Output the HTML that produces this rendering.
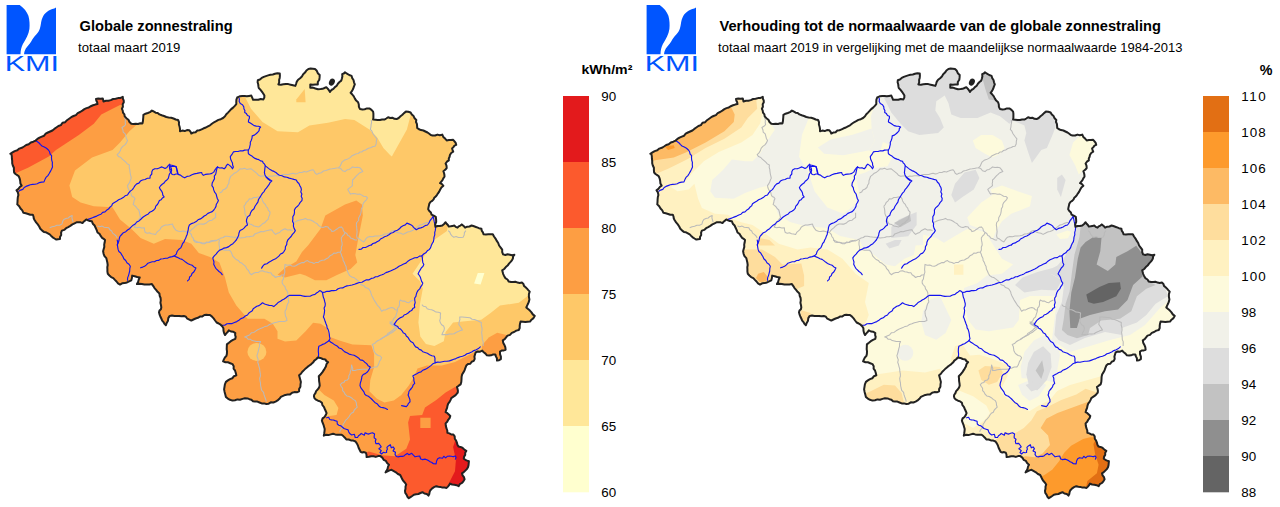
<!DOCTYPE html>
<html><head><meta charset="utf-8"><title>Globale zonnestraling</title>
<style>
html,body{margin:0;padding:0;background:#fff;}
body{width:1280px;height:507px;overflow:hidden;font-family:"Liberation Sans",sans-serif;}
svg{display:block;}
text{font-family:"Liberation Sans",sans-serif;}
.t{font-size:14.67px;font-weight:bold;fill:#000;}
.s{font-size:13.15px;fill:#000;}
.s2{font-size:12.98px;fill:#000;}
.lab{font-size:13.4px;fill:#000;}
.u{font-size:14px;font-weight:bold;fill:#000;}
</style></head><body>
<svg width="1280" height="507" viewBox="0 0 1280 507">
<defs>
<clipPath id="cl"><path d="M10.3 153.8 L12.5 152.4 L14.7 151.1 L17.3 150.3 L19.3 148.6 L21.8 147.8 L24.0 146.5 L26.2 145.0 L28.7 144.2 L30.8 142.5 L33.3 141.7 L35.6 140.6 L37.4 138.9 L39.5 137.6 L41.8 136.6 L44.1 135.7 L45.7 133.7 L47.9 132.5 L50.2 131.5 L52.4 130.5 L54.3 128.9 L56.3 127.5 L58.4 126.0 L60.9 125.1 L62.5 122.8 L65.2 122.2 L67.0 120.2 L69.1 118.7 L71.2 117.2 L73.5 116.0 L75.9 115.1 L77.7 113.1 L80.1 112.0 L82.3 110.6 L84.4 109.1 L86.5 108.1 L88.8 107.5 L90.8 106.2 L93.0 105.3 L95.2 104.6 L97.5 104.1 L97.2 102.3 L96.4 100.7 L96.0 99.0 L98.2 98.6 L100.5 98.7 L102.8 98.4 L103.2 100.0 L103.5 101.6 L105.9 100.8 L108.4 100.7 L110.8 100.1 L113.1 99.0 L115.6 98.7 L118.0 98.1 L120.5 97.9 L122.8 96.9 L122.9 98.7 L123.7 100.4 L123.8 102.2 L122.7 104.3 L122.9 106.7 L121.9 108.8 L122.7 110.6 L123.0 112.6 L124.4 114.3 L124.7 116.3 L126.4 118.2 L128.4 119.7 L129.5 122.0 L131.3 123.8 L133.6 124.0 L135.8 123.7 L138.0 124.0 L140.3 123.3 L142.5 123.4 L142.9 121.3 L143.1 119.1 L143.3 117.0 L143.4 114.8 L145.5 113.7 L147.8 113.0 L150.0 112.1 L151.9 110.6 L153.8 111.5 L155.6 112.7 L157.7 113.0 L159.4 114.4 L161.7 115.3 L164.0 116.0 L166.3 117.0 L168.6 117.5 L171.2 117.7 L173.5 118.5 L175.7 119.5 L178.1 120.0 L179.0 122.2 L178.9 124.5 L179.6 126.7 L180.0 129.0 L180.0 131.3 L182.3 130.6 L184.7 131.1 L187.0 130.1 L189.4 130.3 L190.6 131.8 L191.3 133.5 L193.3 132.6 L195.6 132.2 L197.3 130.6 L199.5 130.2 L201.6 129.4 L203.7 128.3 L205.9 127.5 L207.9 126.3 L210.0 125.3 L211.9 123.8 L214.0 122.3 L216.2 121.2 L218.4 119.9 L220.8 119.2 L223.1 118.0 L225.0 116.3 L226.3 114.3 L228.0 112.6 L229.6 110.9 L231.2 109.1 L233.1 107.6 L234.8 105.9 L236.3 104.1 L236.3 101.9 L236.4 99.6 L237.2 97.5 L238.6 96.8 L240.0 96.2 L242.3 95.9 L244.5 96.0 L246.8 96.3 L249.1 95.9 L251.3 95.6 L252.2 97.7 L253.1 99.8 L255.7 99.8 L258.3 99.8 L260.8 99.0 L263.4 99.4 L264.3 97.6 L264.4 95.6 L263.2 93.5 L261.9 91.6 L260.5 89.8 L258.8 88.1 L258.4 86.2 L258.2 84.2 L257.6 82.3 L257.8 80.3 L259.9 79.5 L261.7 77.9 L263.8 76.9 L265.9 76.1 L268.1 75.4 L270.4 74.7 L272.8 74.5 L275.0 73.8 L277.4 73.3 L279.8 73.5 L279.9 75.7 L279.7 77.9 L279.1 80.1 L279.2 82.3 L278.4 84.4 L280.9 84.7 L283.4 84.3 L285.9 84.0 L288.3 84.1 L290.7 84.7 L293.0 85.3 L295.3 85.9 L296.1 83.8 L296.8 81.6 L298.1 79.7 L300.1 78.2 L301.9 76.5 L303.2 74.3 L305.0 72.6 L306.4 70.5 L308.4 69.0 L310.6 68.6 L312.8 68.8 L315.0 69.0 L316.8 70.8 L317.8 73.2 L319.7 75.0 L319.6 77.4 L319.3 79.8 L317.8 82.0 L317.8 84.4 L315.3 84.4 L312.8 84.8 L310.3 84.4 L310.3 86.1 L310.3 87.8 L312.9 87.6 L315.4 88.5 L318.0 89.3 L320.6 89.1 L322.6 88.8 L324.5 88.0 L326.3 87.2 L327.7 88.6 L328.9 90.2 L330.0 91.9 L331.4 90.0 L333.4 88.9 L334.9 87.1 L336.7 85.7 L337.9 83.7 L339.5 82.0 L341.3 80.6 L341.9 78.5 L342.4 76.3 L342.2 74.1 L343.8 73.5 L345.0 72.2 L347.0 73.7 L349.2 75.0 L351.6 75.9 L352.2 78.1 L353.5 80.0 L354.0 82.3 L354.8 84.4 L353.9 86.6 L353.2 88.8 L352.1 90.9 L350.6 92.8 L352.3 94.5 L353.8 96.4 L354.9 98.6 L356.2 100.6 L358.1 102.2 L358.8 104.5 L358.9 106.9 L360.0 109.1 L362.4 109.5 L364.7 109.2 L367.0 108.4 L369.4 108.4 L371.5 109.8 L373.1 111.6 L373.4 113.6 L373.4 115.6 L373.4 117.6 L373.1 119.6 L375.4 119.7 L377.6 120.0 L379.9 120.0 L382.1 119.6 L384.4 119.6 L386.3 118.5 L388.1 117.2 L390.2 118.0 L392.4 117.7 L394.4 118.8 L396.6 119.1 L398.7 118.0 L400.5 116.3 L402.4 114.8 L404.0 113.1 L405.9 111.6 L408.3 111.7 L410.6 112.5 L411.8 114.6 L413.6 116.1 L414.6 118.3 L416.3 120.0 L416.0 122.0 L416.9 123.9 L417.1 125.9 L417.2 127.9 L419.0 129.3 L421.1 130.1 L423.4 130.5 L425.4 131.5 L427.5 132.5 L429.3 133.8 L430.8 135.0 L432.6 135.4 L435.1 135.5 L437.4 134.6 L439.9 135.2 L442.3 134.6 L443.3 136.9 L445.1 138.6 L446.7 140.4 L448.9 140.0 L451.0 140.1 L453.2 139.8 L454.5 141.3 L455.7 142.9 L456.2 144.8 L454.5 145.6 L453.4 147.1 L452.1 148.4 L452.6 150.1 L453.2 151.7 L451.2 153.0 L449.9 155.0 L449.6 156.8 L448.8 158.5 L448.8 160.4 L446.9 161.7 L445.6 163.6 L446.5 165.7 L446.7 168.0 L445.2 169.8 L443.4 171.2 L444.0 173.0 L444.4 174.8 L444.5 176.7 L443.3 178.3 L442.5 180.1 L441.3 181.6 L440.1 183.2 L442.0 184.2 L443.4 185.8 L441.4 187.5 L440.1 189.7 L439.2 191.6 L438.0 193.3 L436.9 195.1 L435.7 196.5 L434.3 197.7 L433.6 199.4 L432.2 200.9 L430.4 202.0 L429.3 203.8 L428.9 205.6 L428.5 207.4 L428.2 209.2 L429.3 211.0 L430.9 212.5 L431.5 214.6 L433.7 215.6 L435.8 216.8 L436.1 219.3 L436.2 221.8 L435.2 224.3 L435.5 226.8 L437.7 226.0 L440.0 225.9 L442.3 225.5 L444.1 224.0 L445.6 222.2 L446.6 223.7 L447.9 225.0 L448.8 226.6 L450.6 226.3 L452.5 225.9 L454.3 225.5 L455.7 226.9 L457.5 227.7 L458.7 226.3 L460.4 225.6 L461.8 224.4 L463.6 225.9 L465.1 227.7 L467.2 226.7 L469.5 226.5 L471.6 225.5 L474.0 226.3 L476.5 227.2 L478.9 228.2 L481.4 228.7 L481.7 230.7 L482.9 232.4 L483.6 234.3 L485.9 234.4 L488.2 234.3 L490.5 234.2 L492.8 234.2 L494.0 236.5 L495.5 238.6 L496.8 240.9 L498.2 243.0 L499.1 245.5 L500.7 247.6 L502.2 249.7 L502.2 252.1 L503.1 254.4 L505.3 255.0 L507.6 254.3 L509.9 254.7 L512.1 255.2 L514.4 254.8 L513.1 256.4 L512.9 258.5 L511.9 260.3 L510.6 261.9 L509.0 263.6 L507.6 265.6 L505.8 267.1 L504.2 269.0 L502.2 270.3 L502.7 272.2 L503.2 274.1 L504.1 275.9 L505.3 278.1 L507.5 279.5 L508.8 281.6 L511.0 282.0 L513.2 282.1 L515.4 281.7 L517.5 282.6 L519.7 282.9 L521.9 282.5 L523.4 283.9 L524.0 285.9 L525.6 287.2 L527.0 288.6 L528.3 290.1 L529.7 291.6 L528.9 294.1 L528.9 296.7 L529.4 299.4 L528.8 301.9 L528.0 303.8 L527.1 305.6 L526.3 307.5 L528.1 309.1 L529.9 310.6 L531.5 312.4 L532.8 314.4 L534.7 315.9 L533.5 318.1 L531.5 319.7 L530.0 321.6 L527.6 321.7 L525.3 322.1 L523.0 321.8 L520.6 321.6 L520.0 323.7 L519.7 325.8 L519.7 328.0 L518.8 330.0 L516.3 330.6 L514.1 332.0 L511.8 332.9 L510.0 334.9 L507.5 335.6 L506.1 337.3 L504.7 339.1 L502.8 340.3 L503.2 342.7 L504.4 344.9 L505.3 347.2 L505.6 349.7 L503.8 350.4 L501.7 350.5 L500.0 351.6 L500.0 354.1 L500.9 356.6 L500.9 359.1 L499.1 360.2 L497.0 360.5 L496.9 358.3 L495.9 356.4 L495.3 354.4 L493.2 354.4 L491.1 355.3 L489.1 355.6 L486.9 355.3 L485.5 353.6 L483.7 352.2 L482.2 350.6 L480.1 351.7 L477.7 351.4 L475.6 352.5 L475.0 354.6 L474.4 356.6 L474.7 358.9 L473.8 360.9 L471.7 361.7 L470.3 363.7 L468.0 364.1 L466.3 365.6 L465.4 367.9 L464.6 370.2 L463.4 372.4 L462.1 374.5 L461.6 376.9 L461.5 379.4 L461.3 382.0 L460.6 384.4 L458.7 385.7 L456.9 387.0 L457.5 388.8 L457.9 390.6 L457.8 392.5 L456.4 394.2 L454.9 395.7 L453.1 396.9 L451.3 398.1 L450.5 400.1 L449.6 401.9 L448.2 403.6 L447.5 405.6 L447.1 407.9 L446.2 410.0 L445.6 412.2 L447.4 413.2 L448.8 414.5 L450.3 415.9 L449.6 418.1 L448.2 419.8 L447.2 421.8 L445.6 423.4 L445.8 425.8 L446.4 428.2 L447.3 430.5 L447.4 432.9 L449.4 433.4 L451.3 434.5 L453.4 434.6 L454.7 436.4 L454.8 438.7 L456.1 440.6 L456.9 442.6 L457.4 444.7 L458.6 446.6 L460.3 446.9 L462.0 447.5 L463.4 448.6 L464.7 449.9 L466.3 450.9 L465.2 452.7 L465.2 454.9 L464.1 456.6 L463.8 458.7 L465.4 459.8 L467.1 460.6 L468.9 461.3 L468.7 463.3 L468.5 465.3 L468.0 467.3 L466.8 469.1 L465.3 470.6 L463.8 472.1 L462.0 473.3 L462.6 475.4 L464.0 477.2 L464.6 479.3 L463.4 481.3 L461.9 483.0 L459.8 484.2 L458.6 486.2 L456.6 485.2 L454.4 484.7 L452.1 484.5 L450.0 483.6 L449.1 485.2 L447.9 486.6 L446.6 487.9 L444.5 487.6 L442.4 487.6 L440.4 486.9 L438.3 486.8 L436.3 486.2 L434.0 487.2 L431.9 488.6 L430.2 490.5 L429.6 492.2 L429.3 494.0 L428.5 495.6 L426.8 494.0 L424.4 493.5 L422.5 492.2 L420.4 493.0 L418.4 494.0 L416.1 494.3 L413.9 494.8 L412.2 496.0 L410.5 497.1 L408.8 498.2 L407.4 496.7 L406.5 494.7 L405.3 493.0 L405.0 490.8 L405.5 488.7 L405.5 486.6 L406.2 484.5 L404.9 482.7 L403.4 481.0 L402.2 479.1 L401.2 477.0 L400.2 475.0 L397.9 474.0 L395.9 472.3 L393.8 471.1 L391.6 469.8 L389.5 470.4 L387.5 471.4 L385.5 472.4 L386.6 470.6 L387.6 468.7 L388.0 466.6 L389.0 464.7 L387.1 463.1 L385.9 460.9 L383.6 459.8 L382.3 457.6 L380.4 456.1 L378.1 456.1 L375.8 456.9 L373.5 456.2 L371.2 456.3 L368.9 456.7 L366.6 457.0 L366.5 454.8 L365.8 452.7 L364.1 452.1 L362.3 452.5 L360.6 451.8 L359.6 449.7 L358.6 447.7 L357.9 445.5 L356.8 443.4 L355.5 441.5 L353.3 440.6 L350.9 440.4 L348.7 439.5 L346.3 439.4 L344.9 437.7 L343.3 436.1 L341.6 434.7 L339.4 434.8 L337.3 434.8 L335.2 434.4 L333.1 433.8 L330.8 434.4 L328.5 435.1 L326.1 434.8 L323.8 435.6 L324.2 433.4 L324.5 431.3 L324.7 429.1 L324.1 426.9 L323.5 424.8 L322.6 422.7 L321.9 420.6 L322.6 418.4 L324.5 417.0 L325.7 415.1 L326.6 413.1 L325.7 411.0 L324.8 409.0 L323.9 406.8 L322.4 405.1 L321.9 402.8 L320.2 401.4 L318.0 400.7 L316.0 399.7 L314.4 398.1 L314.0 396.6 L314.1 395.0 L315.4 393.2 L316.1 391.1 L317.7 389.5 L319.0 387.7 L319.7 385.6 L319.5 383.3 L319.1 381.0 L319.0 378.6 L318.8 376.3 L320.5 374.5 L322.1 372.7 L323.4 370.6 L324.7 368.6 L325.9 366.5 L326.5 364.1 L328.1 362.2 L326.4 361.1 L325.3 359.4 L322.7 359.0 L320.4 357.9 L317.8 357.5 L316.2 359.2 L314.3 360.6 L313.0 362.6 L311.3 364.1 L309.4 365.5 L307.5 366.9 L305.7 368.4 L304.0 370.1 L302.3 371.8 L300.9 373.8 L299.1 375.3 L299.7 377.5 L300.3 379.7 L300.9 381.9 L300.5 384.3 L300.4 386.7 L299.1 388.9 L299.1 391.3 L296.9 392.3 L294.4 392.1 L292.1 392.8 L290.1 394.4 L287.7 394.6 L285.3 394.9 L283.1 395.9 L280.9 396.9 L279.4 398.8 L277.6 400.4 L275.6 401.6 L273.4 402.5 L270.8 402.3 L268.7 403.7 L266.3 404.0 L264.1 403.4 L261.7 403.4 L259.5 402.5 L257.4 401.6 L255.0 401.6 L253.0 401.2 L251.4 399.7 L249.4 399.2 L247.5 398.4 L244.9 398.3 L242.5 398.9 L240.0 399.8 L237.4 399.4 L235.0 400.2 L232.5 400.6 L230.0 399.8 L227.8 398.6 L225.9 396.9 L225.3 394.4 L224.6 391.9 L224.1 389.4 L224.5 386.8 L224.9 384.3 L225.9 381.9 L227.9 380.4 L230.0 379.1 L232.3 378.3 L233.9 376.2 L236.3 375.3 L235.8 373.0 L235.1 370.7 L233.6 368.7 L233.7 366.2 L232.5 364.1 L230.2 363.2 L227.9 362.3 L225.4 362.2 L223.1 361.3 L223.9 359.4 L224.9 357.5 L226.4 355.9 L226.9 353.8 L227.0 351.4 L226.7 349.1 L226.8 346.8 L226.9 344.4 L228.9 342.8 L230.8 341.2 L233.0 339.8 L235.3 338.8 L235.7 336.9 L235.1 335.0 L235.3 333.1 L233.3 331.7 L230.9 331.5 L228.8 330.3 L227.7 332.0 L226.3 333.4 L225.0 335.0 L224.0 332.9 L223.5 330.7 L223.4 328.3 L222.2 326.3 L220.6 324.7 L218.7 323.5 L216.6 322.5 L215.1 320.5 L213.6 318.4 L212.0 316.6 L210.0 315.0 L208.1 314.9 L206.3 314.8 L204.4 315.0 L202.4 316.4 L199.9 316.6 L197.9 317.8 L195.6 318.5 L193.4 319.5 L191.3 320.6 L189.3 319.6 L187.3 318.7 L185.9 316.7 L183.8 315.9 L181.5 316.3 L179.1 315.9 L176.8 316.1 L174.4 316.1 L172.0 315.6 L169.7 315.9 L168.3 318.1 L168.0 320.7 L166.7 322.9 L165.9 325.3 L164.5 323.9 L163.5 322.1 L162.2 320.6 L161.3 318.5 L160.3 316.5 L159.5 314.4 L159.0 312.2 L159.5 310.5 L160.9 309.3 L161.3 307.5 L161.0 305.2 L160.4 302.8 L160.8 300.4 L160.6 298.0 L159.7 295.8 L159.4 293.4 L157.6 291.8 L156.1 289.9 L154.5 288.1 L153.3 286.1 L151.9 284.1 L149.4 284.5 L146.9 284.4 L144.4 284.4 L141.9 284.0 L139.4 283.7 L136.9 284.1 L138.1 282.0 L138.7 279.7 L139.7 277.5 L137.2 277.0 L134.7 276.2 L132.2 275.6 L131.9 278.0 L131.3 280.3 L129.1 281.3 L127.0 282.5 L124.6 283.1 L122.1 283.3 L120.0 284.6 L118.0 283.4 L116.5 281.5 L114.9 279.9 L113.3 278.1 L111.1 277.1 L109.4 275.5 L107.8 273.8 L107.4 271.6 L107.4 269.4 L107.3 267.2 L107.7 265.0 L107.4 262.8 L106.9 260.6 L106.3 258.1 L104.5 256.1 L103.6 253.8 L103.1 251.3 L103.7 249.1 L104.3 246.9 L104.2 244.5 L104.7 242.3 L105.0 240.0 L104.1 239.1 L102.1 237.8 L100.7 235.9 L99.5 233.8 L97.5 232.5 L96.7 230.1 L95.6 227.8 L94.6 225.5 L92.8 223.7 L91.9 221.3 L89.9 221.1 L88.0 220.4 L86.3 219.4 L85.0 220.6 L83.6 221.7 L82.5 223.1 L80.7 222.3 L78.8 222.3 L76.9 222.2 L74.6 223.3 L72.4 224.4 L70.3 225.9 L68.2 227.1 L66.1 228.2 L64.2 229.9 L61.9 230.6 L61.1 232.7 L61.2 234.9 L60.0 236.9 L60.0 239.1 L58.1 239.2 L56.3 239.6 L54.5 238.5 L52.7 237.3 L51.2 235.9 L49.7 234.4 L47.9 233.3 L46.0 232.3 L43.9 231.9 L42.2 230.6 L40.3 228.8 L39.2 226.5 L37.8 224.4 L36.1 222.4 L34.7 220.3 L33.8 218.5 L33.5 216.5 L32.8 214.7 L30.3 214.8 L28.1 214.0 L25.7 213.3 L23.4 212.8 L22.3 210.4 L20.5 208.5 L19.2 206.3 L17.3 204.4 L17.5 202.0 L17.6 199.7 L17.8 197.3 L18.4 195.0 L17.9 192.5 L16.5 190.3 L18.4 188.9 L19.8 187.0 L21.6 185.6 L20.4 183.4 L20.2 181.0 L19.7 178.6 L18.8 176.3 L17.2 175.1 L15.5 174.0 L14.1 172.5 L13.9 170.1 L13.9 167.8 L12.8 165.5 L12.2 163.2 L12.2 160.8 L11.9 158.5 L11.8 156.1 L11.3 153.8Z"/></clipPath>
<clipPath id="cr"><path d="M10.3 153.8 L12.5 152.4 L14.7 151.1 L17.3 150.3 L19.3 148.6 L21.8 147.8 L24.0 146.5 L26.2 145.0 L28.7 144.2 L30.8 142.5 L33.3 141.7 L35.6 140.6 L37.4 138.9 L39.5 137.6 L41.8 136.6 L44.1 135.7 L45.7 133.7 L47.9 132.5 L50.2 131.5 L52.4 130.5 L54.3 128.9 L56.3 127.5 L58.4 126.0 L60.9 125.1 L62.5 122.8 L65.2 122.2 L67.0 120.2 L69.1 118.7 L71.2 117.2 L73.5 116.0 L75.9 115.1 L77.7 113.1 L80.1 112.0 L82.3 110.6 L84.4 109.1 L86.5 108.1 L88.8 107.5 L90.8 106.2 L93.0 105.3 L95.2 104.6 L97.5 104.1 L97.2 102.3 L96.4 100.7 L96.0 99.0 L98.2 98.6 L100.5 98.7 L102.8 98.4 L103.2 100.0 L103.5 101.6 L105.9 100.8 L108.4 100.7 L110.8 100.1 L113.1 99.0 L115.6 98.7 L118.0 98.1 L120.5 97.9 L122.8 96.9 L122.9 98.7 L123.7 100.4 L123.8 102.2 L122.7 104.3 L122.9 106.7 L121.9 108.8 L122.7 110.6 L123.0 112.6 L124.4 114.3 L124.7 116.3 L126.4 118.2 L128.4 119.7 L129.5 122.0 L131.3 123.8 L133.6 124.0 L135.8 123.7 L138.0 124.0 L140.3 123.3 L142.5 123.4 L142.9 121.3 L143.1 119.1 L143.3 117.0 L143.4 114.8 L145.5 113.7 L147.8 113.0 L150.0 112.1 L151.9 110.6 L153.8 111.5 L155.6 112.7 L157.7 113.0 L159.4 114.4 L161.7 115.3 L164.0 116.0 L166.3 117.0 L168.6 117.5 L171.2 117.7 L173.5 118.5 L175.7 119.5 L178.1 120.0 L179.0 122.2 L178.9 124.5 L179.6 126.7 L180.0 129.0 L180.0 131.3 L182.3 130.6 L184.7 131.1 L187.0 130.1 L189.4 130.3 L190.6 131.8 L191.3 133.5 L193.3 132.6 L195.6 132.2 L197.3 130.6 L199.5 130.2 L201.6 129.4 L203.7 128.3 L205.9 127.5 L207.9 126.3 L210.0 125.3 L211.9 123.8 L214.0 122.3 L216.2 121.2 L218.4 119.9 L220.8 119.2 L223.1 118.0 L225.0 116.3 L226.3 114.3 L228.0 112.6 L229.6 110.9 L231.2 109.1 L233.1 107.6 L234.8 105.9 L236.3 104.1 L236.3 101.9 L236.4 99.6 L237.2 97.5 L238.6 96.8 L240.0 96.2 L242.3 95.9 L244.5 96.0 L246.8 96.3 L249.1 95.9 L251.3 95.6 L252.2 97.7 L253.1 99.8 L255.7 99.8 L258.3 99.8 L260.8 99.0 L263.4 99.4 L264.3 97.6 L264.4 95.6 L263.2 93.5 L261.9 91.6 L260.5 89.8 L258.8 88.1 L258.4 86.2 L258.2 84.2 L257.6 82.3 L257.8 80.3 L259.9 79.5 L261.7 77.9 L263.8 76.9 L265.9 76.1 L268.1 75.4 L270.4 74.7 L272.8 74.5 L275.0 73.8 L277.4 73.3 L279.8 73.5 L279.9 75.7 L279.7 77.9 L279.1 80.1 L279.2 82.3 L278.4 84.4 L280.9 84.7 L283.4 84.3 L285.9 84.0 L288.3 84.1 L290.7 84.7 L293.0 85.3 L295.3 85.9 L296.1 83.8 L296.8 81.6 L298.1 79.7 L300.1 78.2 L301.9 76.5 L303.2 74.3 L305.0 72.6 L306.4 70.5 L308.4 69.0 L310.6 68.6 L312.8 68.8 L315.0 69.0 L316.8 70.8 L317.8 73.2 L319.7 75.0 L319.6 77.4 L319.3 79.8 L317.8 82.0 L317.8 84.4 L315.3 84.4 L312.8 84.8 L310.3 84.4 L310.3 86.1 L310.3 87.8 L312.9 87.6 L315.4 88.5 L318.0 89.3 L320.6 89.1 L322.6 88.8 L324.5 88.0 L326.3 87.2 L327.7 88.6 L328.9 90.2 L330.0 91.9 L331.4 90.0 L333.4 88.9 L334.9 87.1 L336.7 85.7 L337.9 83.7 L339.5 82.0 L341.3 80.6 L341.9 78.5 L342.4 76.3 L342.2 74.1 L343.8 73.5 L345.0 72.2 L347.0 73.7 L349.2 75.0 L351.6 75.9 L352.2 78.1 L353.5 80.0 L354.0 82.3 L354.8 84.4 L353.9 86.6 L353.2 88.8 L352.1 90.9 L350.6 92.8 L352.3 94.5 L353.8 96.4 L354.9 98.6 L356.2 100.6 L358.1 102.2 L358.8 104.5 L358.9 106.9 L360.0 109.1 L362.4 109.5 L364.7 109.2 L367.0 108.4 L369.4 108.4 L371.5 109.8 L373.1 111.6 L373.4 113.6 L373.4 115.6 L373.4 117.6 L373.1 119.6 L375.4 119.7 L377.6 120.0 L379.9 120.0 L382.1 119.6 L384.4 119.6 L386.3 118.5 L388.1 117.2 L390.2 118.0 L392.4 117.7 L394.4 118.8 L396.6 119.1 L398.7 118.0 L400.5 116.3 L402.4 114.8 L404.0 113.1 L405.9 111.6 L408.3 111.7 L410.6 112.5 L411.8 114.6 L413.6 116.1 L414.6 118.3 L416.3 120.0 L416.0 122.0 L416.9 123.9 L417.1 125.9 L417.2 127.9 L419.0 129.3 L421.1 130.1 L423.4 130.5 L425.4 131.5 L427.5 132.5 L429.3 133.8 L430.8 135.0 L432.6 135.4 L435.1 135.5 L437.4 134.6 L439.9 135.2 L442.3 134.6 L443.3 136.9 L445.1 138.6 L446.7 140.4 L448.9 140.0 L451.0 140.1 L453.2 139.8 L454.5 141.3 L455.7 142.9 L456.2 144.8 L454.5 145.6 L453.4 147.1 L452.1 148.4 L452.6 150.1 L453.2 151.7 L451.2 153.0 L449.9 155.0 L449.6 156.8 L448.8 158.5 L448.8 160.4 L446.9 161.7 L445.6 163.6 L446.5 165.7 L446.7 168.0 L445.2 169.8 L443.4 171.2 L444.0 173.0 L444.4 174.8 L444.5 176.7 L443.3 178.3 L442.5 180.1 L441.3 181.6 L440.1 183.2 L442.0 184.2 L443.4 185.8 L441.4 187.5 L440.1 189.7 L439.2 191.6 L438.0 193.3 L436.9 195.1 L435.7 196.5 L434.3 197.7 L433.6 199.4 L432.2 200.9 L430.4 202.0 L429.3 203.8 L428.9 205.6 L428.5 207.4 L428.2 209.2 L429.3 211.0 L430.9 212.5 L431.5 214.6 L433.7 215.6 L435.8 216.8 L436.1 219.3 L436.2 221.8 L435.2 224.3 L435.5 226.8 L437.7 226.0 L440.0 225.9 L442.3 225.5 L444.1 224.0 L445.6 222.2 L446.6 223.7 L447.9 225.0 L448.8 226.6 L450.6 226.3 L452.5 225.9 L454.3 225.5 L455.7 226.9 L457.5 227.7 L458.7 226.3 L460.4 225.6 L461.8 224.4 L463.6 225.9 L465.1 227.7 L467.2 226.7 L469.5 226.5 L471.6 225.5 L474.0 226.3 L476.5 227.2 L478.9 228.2 L481.4 228.7 L481.7 230.7 L482.9 232.4 L483.6 234.3 L485.9 234.4 L488.2 234.3 L490.5 234.2 L492.8 234.2 L494.0 236.5 L495.5 238.6 L496.8 240.9 L498.2 243.0 L499.1 245.5 L500.7 247.6 L502.2 249.7 L502.2 252.1 L503.1 254.4 L505.3 255.0 L507.6 254.3 L509.9 254.7 L512.1 255.2 L514.4 254.8 L513.1 256.4 L512.9 258.5 L511.9 260.3 L510.6 261.9 L509.0 263.6 L507.6 265.6 L505.8 267.1 L504.2 269.0 L502.2 270.3 L502.7 272.2 L503.2 274.1 L504.1 275.9 L505.3 278.1 L507.5 279.5 L508.8 281.6 L511.0 282.0 L513.2 282.1 L515.4 281.7 L517.5 282.6 L519.7 282.9 L521.9 282.5 L523.4 283.9 L524.0 285.9 L525.6 287.2 L527.0 288.6 L528.3 290.1 L529.7 291.6 L528.9 294.1 L528.9 296.7 L529.4 299.4 L528.8 301.9 L528.0 303.8 L527.1 305.6 L526.3 307.5 L528.1 309.1 L529.9 310.6 L531.5 312.4 L532.8 314.4 L534.7 315.9 L533.5 318.1 L531.5 319.7 L530.0 321.6 L527.6 321.7 L525.3 322.1 L523.0 321.8 L520.6 321.6 L520.0 323.7 L519.7 325.8 L519.7 328.0 L518.8 330.0 L516.3 330.6 L514.1 332.0 L511.8 332.9 L510.0 334.9 L507.5 335.6 L506.1 337.3 L504.7 339.1 L502.8 340.3 L503.2 342.7 L504.4 344.9 L505.3 347.2 L505.6 349.7 L503.8 350.4 L501.7 350.5 L500.0 351.6 L500.0 354.1 L500.9 356.6 L500.9 359.1 L499.1 360.2 L497.0 360.5 L496.9 358.3 L495.9 356.4 L495.3 354.4 L493.2 354.4 L491.1 355.3 L489.1 355.6 L486.9 355.3 L485.5 353.6 L483.7 352.2 L482.2 350.6 L480.1 351.7 L477.7 351.4 L475.6 352.5 L475.0 354.6 L474.4 356.6 L474.7 358.9 L473.8 360.9 L471.7 361.7 L470.3 363.7 L468.0 364.1 L466.3 365.6 L465.4 367.9 L464.6 370.2 L463.4 372.4 L462.1 374.5 L461.6 376.9 L461.5 379.4 L461.3 382.0 L460.6 384.4 L458.7 385.7 L456.9 387.0 L457.5 388.8 L457.9 390.6 L457.8 392.5 L456.4 394.2 L454.9 395.7 L453.1 396.9 L451.3 398.1 L450.5 400.1 L449.6 401.9 L448.2 403.6 L447.5 405.6 L447.1 407.9 L446.2 410.0 L445.6 412.2 L447.4 413.2 L448.8 414.5 L450.3 415.9 L449.6 418.1 L448.2 419.8 L447.2 421.8 L445.6 423.4 L445.8 425.8 L446.4 428.2 L447.3 430.5 L447.4 432.9 L449.4 433.4 L451.3 434.5 L453.4 434.6 L454.7 436.4 L454.8 438.7 L456.1 440.6 L456.9 442.6 L457.4 444.7 L458.6 446.6 L460.3 446.9 L462.0 447.5 L463.4 448.6 L464.7 449.9 L466.3 450.9 L465.2 452.7 L465.2 454.9 L464.1 456.6 L463.8 458.7 L465.4 459.8 L467.1 460.6 L468.9 461.3 L468.7 463.3 L468.5 465.3 L468.0 467.3 L466.8 469.1 L465.3 470.6 L463.8 472.1 L462.0 473.3 L462.6 475.4 L464.0 477.2 L464.6 479.3 L463.4 481.3 L461.9 483.0 L459.8 484.2 L458.6 486.2 L456.6 485.2 L454.4 484.7 L452.1 484.5 L450.0 483.6 L449.1 485.2 L447.9 486.6 L446.6 487.9 L444.5 487.6 L442.4 487.6 L440.4 486.9 L438.3 486.8 L436.3 486.2 L434.0 487.2 L431.9 488.6 L430.2 490.5 L429.6 492.2 L429.3 494.0 L428.5 495.6 L426.8 494.0 L424.4 493.5 L422.5 492.2 L420.4 493.0 L418.4 494.0 L416.1 494.3 L413.9 494.8 L412.2 496.0 L410.5 497.1 L408.8 498.2 L407.4 496.7 L406.5 494.7 L405.3 493.0 L405.0 490.8 L405.5 488.7 L405.5 486.6 L406.2 484.5 L404.9 482.7 L403.4 481.0 L402.2 479.1 L401.2 477.0 L400.2 475.0 L397.9 474.0 L395.9 472.3 L393.8 471.1 L391.6 469.8 L389.5 470.4 L387.5 471.4 L385.5 472.4 L386.6 470.6 L387.6 468.7 L388.0 466.6 L389.0 464.7 L387.1 463.1 L385.9 460.9 L383.6 459.8 L382.3 457.6 L380.4 456.1 L378.1 456.1 L375.8 456.9 L373.5 456.2 L371.2 456.3 L368.9 456.7 L366.6 457.0 L366.5 454.8 L365.8 452.7 L364.1 452.1 L362.3 452.5 L360.6 451.8 L359.6 449.7 L358.6 447.7 L357.9 445.5 L356.8 443.4 L355.5 441.5 L353.3 440.6 L350.9 440.4 L348.7 439.5 L346.3 439.4 L344.9 437.7 L343.3 436.1 L341.6 434.7 L339.4 434.8 L337.3 434.8 L335.2 434.4 L333.1 433.8 L330.8 434.4 L328.5 435.1 L326.1 434.8 L323.8 435.6 L324.2 433.4 L324.5 431.3 L324.7 429.1 L324.1 426.9 L323.5 424.8 L322.6 422.7 L321.9 420.6 L322.6 418.4 L324.5 417.0 L325.7 415.1 L326.6 413.1 L325.7 411.0 L324.8 409.0 L323.9 406.8 L322.4 405.1 L321.9 402.8 L320.2 401.4 L318.0 400.7 L316.0 399.7 L314.4 398.1 L314.0 396.6 L314.1 395.0 L315.4 393.2 L316.1 391.1 L317.7 389.5 L319.0 387.7 L319.7 385.6 L319.5 383.3 L319.1 381.0 L319.0 378.6 L318.8 376.3 L320.5 374.5 L322.1 372.7 L323.4 370.6 L324.7 368.6 L325.9 366.5 L326.5 364.1 L328.1 362.2 L326.4 361.1 L325.3 359.4 L322.7 359.0 L320.4 357.9 L317.8 357.5 L316.2 359.2 L314.3 360.6 L313.0 362.6 L311.3 364.1 L309.4 365.5 L307.5 366.9 L305.7 368.4 L304.0 370.1 L302.3 371.8 L300.9 373.8 L299.1 375.3 L299.7 377.5 L300.3 379.7 L300.9 381.9 L300.5 384.3 L300.4 386.7 L299.1 388.9 L299.1 391.3 L296.9 392.3 L294.4 392.1 L292.1 392.8 L290.1 394.4 L287.7 394.6 L285.3 394.9 L283.1 395.9 L280.9 396.9 L279.4 398.8 L277.6 400.4 L275.6 401.6 L273.4 402.5 L270.8 402.3 L268.7 403.7 L266.3 404.0 L264.1 403.4 L261.7 403.4 L259.5 402.5 L257.4 401.6 L255.0 401.6 L253.0 401.2 L251.4 399.7 L249.4 399.2 L247.5 398.4 L244.9 398.3 L242.5 398.9 L240.0 399.8 L237.4 399.4 L235.0 400.2 L232.5 400.6 L230.0 399.8 L227.8 398.6 L225.9 396.9 L225.3 394.4 L224.6 391.9 L224.1 389.4 L224.5 386.8 L224.9 384.3 L225.9 381.9 L227.9 380.4 L230.0 379.1 L232.3 378.3 L233.9 376.2 L236.3 375.3 L235.8 373.0 L235.1 370.7 L233.6 368.7 L233.7 366.2 L232.5 364.1 L230.2 363.2 L227.9 362.3 L225.4 362.2 L223.1 361.3 L223.9 359.4 L224.9 357.5 L226.4 355.9 L226.9 353.8 L227.0 351.4 L226.7 349.1 L226.8 346.8 L226.9 344.4 L228.9 342.8 L230.8 341.2 L233.0 339.8 L235.3 338.8 L235.7 336.9 L235.1 335.0 L235.3 333.1 L233.3 331.7 L230.9 331.5 L228.8 330.3 L227.7 332.0 L226.3 333.4 L225.0 335.0 L224.0 332.9 L223.5 330.7 L223.4 328.3 L222.2 326.3 L220.6 324.7 L218.7 323.5 L216.6 322.5 L215.1 320.5 L213.6 318.4 L212.0 316.6 L210.0 315.0 L208.1 314.9 L206.3 314.8 L204.4 315.0 L202.4 316.4 L199.9 316.6 L197.9 317.8 L195.6 318.5 L193.4 319.5 L191.3 320.6 L189.3 319.6 L187.3 318.7 L185.9 316.7 L183.8 315.9 L181.5 316.3 L179.1 315.9 L176.8 316.1 L174.4 316.1 L172.0 315.6 L169.7 315.9 L168.3 318.1 L168.0 320.7 L166.7 322.9 L165.9 325.3 L164.5 323.9 L163.5 322.1 L162.2 320.6 L161.3 318.5 L160.3 316.5 L159.5 314.4 L159.0 312.2 L159.5 310.5 L160.9 309.3 L161.3 307.5 L161.0 305.2 L160.4 302.8 L160.8 300.4 L160.6 298.0 L159.7 295.8 L159.4 293.4 L157.6 291.8 L156.1 289.9 L154.5 288.1 L153.3 286.1 L151.9 284.1 L149.4 284.5 L146.9 284.4 L144.4 284.4 L141.9 284.0 L139.4 283.7 L136.9 284.1 L138.1 282.0 L138.7 279.7 L139.7 277.5 L137.2 277.0 L134.7 276.2 L132.2 275.6 L131.9 278.0 L131.3 280.3 L129.1 281.3 L127.0 282.5 L124.6 283.1 L122.1 283.3 L120.0 284.6 L118.0 283.4 L116.5 281.5 L114.9 279.9 L113.3 278.1 L111.1 277.1 L109.4 275.5 L107.8 273.8 L107.4 271.6 L107.4 269.4 L107.3 267.2 L107.7 265.0 L107.4 262.8 L106.9 260.6 L106.3 258.1 L104.5 256.1 L103.6 253.8 L103.1 251.3 L103.7 249.1 L104.3 246.9 L104.2 244.5 L104.7 242.3 L105.0 240.0 L104.1 239.1 L102.1 237.8 L100.7 235.9 L99.5 233.8 L97.5 232.5 L96.7 230.1 L95.6 227.8 L94.6 225.5 L92.8 223.7 L91.9 221.3 L89.9 221.1 L88.0 220.4 L86.3 219.4 L85.0 220.6 L83.6 221.7 L82.5 223.1 L80.7 222.3 L78.8 222.3 L76.9 222.2 L74.6 223.3 L72.4 224.4 L70.3 225.9 L68.2 227.1 L66.1 228.2 L64.2 229.9 L61.9 230.6 L61.1 232.7 L61.2 234.9 L60.0 236.9 L60.0 239.1 L58.1 239.2 L56.3 239.6 L54.5 238.5 L52.7 237.3 L51.2 235.9 L49.7 234.4 L47.9 233.3 L46.0 232.3 L43.9 231.9 L42.2 230.6 L40.3 228.8 L39.2 226.5 L37.8 224.4 L36.1 222.4 L34.7 220.3 L33.8 218.5 L33.5 216.5 L32.8 214.7 L30.3 214.8 L28.1 214.0 L25.7 213.3 L23.4 212.8 L22.3 210.4 L20.5 208.5 L19.2 206.3 L17.3 204.4 L17.5 202.0 L17.6 199.7 L17.8 197.3 L18.4 195.0 L17.9 192.5 L16.5 190.3 L18.4 188.9 L19.8 187.0 L21.6 185.6 L20.4 183.4 L20.2 181.0 L19.7 178.6 L18.8 176.3 L17.2 175.1 L15.5 174.0 L14.1 172.5 L13.9 170.1 L13.9 167.8 L12.8 165.5 L12.2 163.2 L12.2 160.8 L11.9 158.5 L11.8 156.1 L11.3 153.8Z"/></clipPath>
</defs>
<rect width="1280" height="507" fill="#fff"/>
<g transform="translate(0,0)">
<g clip-path="url(#cl)">
<rect x="0" y="60" width="560" height="447" fill="#FEC868"/>
<path d="M137.8 123.8 L129.4 131.3 L120.0 142.5 L112.5 150.0 L92.0 157.5 L75.0 170.6 L69.4 185.6 L72.2 196.9 L80.6 202.5 L93.8 206.3 L112.5 207.2 L120.0 219.4 L131.3 228.8 L140.6 238.1 L153.8 243.8 L165.0 239.1 L181.9 240.0 L191.3 243.8 L198.8 253.1 L210.0 256.9 L219.4 262.5 L225.0 277.5 L228.8 292.5 L236.3 305.6 L242.8 313.1 L247.5 318.8 L264.4 318.8 L272.8 323.8 L277.5 331.3 L277.5 338.8 L285.0 341.6 L296.3 340.6 L305.6 331.3 L313.1 322.8 L320.6 323.8 L326.3 327.5 L330.0 336.9 L339.4 340.6 L352.5 344.4 L371.3 345.3 L374.1 353.8 L374.1 366.9 L370.3 380.0 L369.4 391.3 L376.9 398.8 L384.4 402.5 L393.8 400.6 L401.3 395.0 L408.8 385.6 L414.4 376.3 L417.5 368.4 L426.9 365.6 L441.9 365.6 L455.0 361.9 L473.8 352.5 L480.0 358.0 L480.0 520.0 L-10.0 520.0 L-10.0 80.0 L130.0 80.0 L137.1 120.0Z" fill="#FD9E43"/>
<ellipse cx="256.9" cy="351.9" rx="9.5" ry="9" fill="#FEC868"/>
<path d="M318.8 389.4 L324.4 395.0 L333.8 400.6 L338.4 408.1 L336.6 415.0 L329.4 415.9 L320.0 418.0 L310.0 410.0 L310.0 389.0Z" fill="#FEC868"/>
<path d="M345.0 204.4 L356.3 200.6 L361.9 204.4 L362.8 215.6 L358.0 240.0 L355.3 255.0 L357.2 262.5 L350.6 269.1 L337.5 274.7 L326.3 280.3 L315.0 280.3 L305.6 275.6 L300.0 273.8 L285.0 277.5 L277.5 274.7 L285.0 268.1 L296.3 261.6 L302.0 252.0 L308.4 245.0 L320.6 228.8 L325.3 215.6Z" fill="#FD9E43"/>
<path d="M482.2 345.0 L488.8 337.5 L497.2 332.8 L505.6 334.7 L512.0 338.0 L512.0 365.0 L480.0 365.0Z" fill="#FD9E43"/>
<path d="M245.0 97.0 L251.0 108.8 L262.5 121.9 L277.5 131.3 L298.0 132.2 L309.4 125.6 L328.0 122.8 L345.0 119.0 L354.4 120.0 L369.4 129.4 L376.9 136.9 L383.4 148.1 L390.0 155.0 L391.9 156.6 L392.8 154.7 L406.9 129.4 L410.6 115.3 L412.0 105.0 L360.0 60.0 L250.0 60.0Z" fill="#FFE799"/>
<path d="M296.3 99.4 L304.7 89.0 L305.6 102.2 L296.3 102.2Z" fill="#FEC868"/>
<path d="M446.9 230.9 L434.1 240.0 L423.8 256.9 L412.5 273.8 L420.0 281.3 L422.8 288.8 L420.0 303.8 L418.4 322.5 L420.3 336.6 L425.9 344.1 L434.4 345.9 L443.8 341.3 L445.6 331.9 L453.1 322.5 L462.5 321.6 L481.3 319.7 L490.6 313.1 L500.0 305.6 L518.8 302.8 L529.7 294.4 L545.0 290.0 L545.0 215.0 L450.0 215.0Z" fill="#FFE799"/>
<path d="M477.8 273.1 L484.4 273.1 L480.6 284.4 L474.1 283.4Z" fill="#FFFFCF"/>
<path d="M0.0 175.0 L15.0 173.4 L28.0 167.8 L48.8 156.6 L56.0 150.0 L78.8 135.0 L93.8 123.8 L101.3 114.4 L112.5 108.8 L120.0 105.0 L126.0 104.0 L126.0 85.0 L0.0 85.0Z" fill="#FC5A2D"/>
<path d="M455.0 386.9 L445.6 392.5 L436.3 400.0 L425.0 407.5 L422.2 415.0 L410.0 415.9 L408.1 422.5 L410.0 439.4 L406.3 448.8 L395.0 456.3 L381.9 455.3 L368.8 451.6 L360.0 455.0 L360.0 510.0 L480.0 510.0 L480.0 386.0Z" fill="#FC5A2D"/>
<path d="M420.3 417.8 L430.6 417.8 L430.6 428.1 L420.3 428.1Z" fill="#FD9E43"/>
<path d="M455.0 441.3 L453.1 446.9 L455.9 460.0 L455.0 471.3 L449.1 482.7 L447.0 492.0 L480.0 492.0 L480.0 440.0Z" fill="#E31A1C"/>
<g fill="none" stroke="#BABABA" stroke-width="1.05" stroke-linejoin="round">
<path d="M124.7 116.3 L124.9 118.4 L125.4 120.5 L125.2 122.6 L125.6 124.7 L123.9 126.3 L121.9 127.5 L122.9 129.7 L123.2 132.1 L125.2 133.9 L125.8 136.1 L126.4 138.5 L127.5 140.6 L126.4 142.9 L124.9 144.9 L122.8 146.4 L121.1 148.3 L120.3 150.8 L119.0 152.9 L117.2 154.7 L118.6 156.6 L120.8 157.5 L122.3 159.2 L124.1 160.7 L125.8 162.2 L127.3 163.9 L129.4 165.0 L129.2 167.3 L129.8 169.4 L130.0 171.6 L130.3 173.8 L130.8 175.9 L131.3 178.1 L130.4 180.0 L129.7 182.0 L128.7 183.9 L127.5 185.6 L128.0 188.1 L129.2 190.4 L130.8 192.5 L131.3 195.0 L132.2 196.6 L134.0 197.3 L135.0 198.8 L134.1 200.6 L133.8 202.5 L133.1 204.4 L134.7 205.6 L136.2 207.0 L137.3 208.7 L138.8 210.0 L139.5 212.5 L139.9 215.0 L140.6 217.5 L139.1 219.2 L137.7 221.0 L136.4 222.9 L135.3 224.9 L134.1 226.9 L136.6 227.7 L139.3 227.3 L141.8 228.0 L144.4 227.8 L144.5 230.2 L145.3 232.5 L147.3 233.3 L149.5 232.8 L151.5 233.7 L153.5 234.0 L155.6 234.4 L156.7 232.4 L158.5 230.9 L160.1 229.3 L161.2 227.2 L163.1 225.9 L165.3 224.9 L167.8 225.1 L170.1 224.4 L172.5 224.1 L173.3 226.6 L174.7 228.6 L176.3 230.6 L178.6 231.2 L180.9 231.5 L183.3 231.0 L185.6 231.6 L187.4 232.3 L189.4 232.5 L190.6 230.7 L192.1 229.2 L193.8 227.9 L195.2 226.3 L196.9 225.0 L199.1 224.0 L201.6 224.1 L204.1 224.1 L206.3 223.1 L207.9 221.5 L209.9 220.6 L212.1 220.2 L213.8 218.6 L215.6 217.5 L215.6 215.2 L215.6 212.8"/>
<path d="M49.7 227.8 L52.1 226.8 L54.6 226.3 L56.9 225.2 L59.6 225.2 L61.9 224.1 L62.6 221.6 L63.8 219.4 L65.9 218.5 L68.2 218.0 L70.0 216.4 L72.2 215.6 L71.9 217.9 L72.5 220.0 L73.1 222.2"/>
<path d="M97.5 225.9 L99.7 226.8 L102.1 226.1 L104.2 227.3 L106.5 227.4 L108.8 227.8 L109.8 229.8 L111.7 231.0 L112.6 233.1 L114.4 234.4 L116.1 236.0 L117.2 238.1"/>
<path d="M189.4 232.5 L190.3 233.5 L191.3 234.4 L191.8 236.5 L193.2 238.1 L193.8 240.1 L195.0 241.9 L197.2 242.6 L199.5 242.3 L201.8 242.7 L204.0 242.9 L206.3 242.8 L208.6 242.6 L210.5 241.0 L212.7 240.6 L215.2 240.9 L217.3 240.0 L219.4 239.1 L221.1 237.9 L223.3 237.5 L225.0 236.3 L227.5 236.2 L230.0 236.7 L232.5 237.1 L235.0 237.2 L237.6 237.4 L240.0 238.1 L242.3 237.7 L244.5 237.6 L246.7 236.8 L249.1 236.8 L251.3 236.3 L253.4 235.9 L254.8 233.9 L256.8 233.2 L258.8 232.5 L260.9 231.6 L263.2 231.8 L265.3 231.0 L267.5 230.6 L269.7 229.9 L271.9 229.7 L272.9 231.5 L274.1 233.0 L275.6 234.4 L277.4 233.2 L279.6 232.5 L281.1 230.8 L283.0 229.8 L285.0 228.8 L287.4 229.9 L290.1 229.7 L292.5 230.6"/>
<path d="M219.4 193.1 L221.6 192.1 L222.9 190.0 L225.1 189.0 L226.9 187.5 L227.6 185.3 L228.9 183.2 L229.0 180.7 L229.8 178.5 L230.6 176.3 L232.5 174.9 L234.3 173.2 L236.5 172.2 L238.4 170.7 L240.0 168.8 L242.3 169.1 L244.5 168.3 L246.8 169.4 L249.0 168.9 L251.3 168.8 L253.1 170.4 L255.0 171.8 L256.9 173.3 L258.4 175.2 L260.6 176.3 L262.9 176.0 L265.1 175.9 L267.4 176.9 L269.6 176.0 L271.9 176.3 L274.3 175.8 L276.7 175.7 L279.2 176.0 L281.5 175.1 L283.9 174.4 L286.4 174.4 L288.8 174.4 L290.9 173.8 L293.1 173.2 L295.4 173.9 L297.6 173.4 L299.7 172.4 L301.9 172.5 L304.1 171.6 L306.5 171.9 L308.7 171.1 L310.8 170.2 L313.1 169.7 L314.3 171.3 L315.2 173.2 L316.9 174.4 L319.0 173.2 L321.4 172.7 L323.4 171.0 L325.9 170.6 L328.1 169.7 L330.1 169.0 L332.2 168.8 L334.3 168.4 L336.3 168.1 L338.4 167.8 L340.2 166.2 L341.1 164.0 L342.2 161.8 L344.1 160.3 L346.3 159.6 L348.4 158.6 L350.4 157.4 L352.1 155.7 L354.2 154.7 L356.3 153.8 L358.3 153.5 L359.9 152.1 L361.9 151.9 L363.5 150.5 L365.7 150.0 L367.4 148.8 L369.4 148.1 L371.3 147.5 L373.0 146.5 L375.0 146.3 L376.2 143.9 L376.3 141.3 L376.9 138.8 L375.4 137.0 L374.1 135.2 L372.7 133.3 L371.9 131.1 L370.3 129.4 L370.9 127.1 L371.1 124.7 L371.6 122.4 L371.3 120.0"/>
<path d="M338.4 167.8 L340.8 168.6 L342.5 170.8 L345.0 171.6 L346.7 170.1 L348.9 169.5 L350.8 168.4 L352.5 166.9 L355.0 167.5 L357.5 167.3 L360.0 167.8 L361.5 169.6 L362.8 171.6 L361.1 172.3 L359.4 173.0 L358.1 174.4 L356.6 175.7 L355.3 177.2 L354.0 178.7 L352.5 180.0 L352.6 181.9 L352.2 183.7 L352.5 185.6 L351.0 186.9 L349.3 188.1 L347.8 189.4 L348.6 191.0 L349.5 192.6 L350.6 194.1 L353.0 193.5 L355.3 193.8 L357.6 194.3 L360.0 194.1 L361.8 195.1 L363.6 196.3 L365.9 196.4 L367.5 197.8 L366.6 199.6 L365.1 201.1 L363.7 202.6 L362.8 204.4 L362.6 206.7 L361.4 208.8 L361.2 211.1 L360.8 213.4 L360.0 215.6 L358.7 217.8 L358.6 220.5 L356.7 222.5 L356.3 225.0 L356.7 227.2 L356.8 229.4 L357.1 231.5 L356.9 233.7 L356.6 235.9 L357.2 238.1 L359.6 239.1 L361.6 240.7 L363.8 241.9 L365.0 240.3 L366.1 238.6 L367.5 237.2 L369.9 236.4 L372.5 236.8 L375.0 236.1 L377.5 235.9 L380.0 235.7 L382.5 235.3 L384.6 233.9 L387.2 233.8 L389.5 232.9 L391.4 231.3 L393.8 230.6 L396.0 231.9 L398.4 232.7 L400.9 233.2 L403.1 234.4 L405.3 233.2 L407.6 232.0 L410.1 231.5 L412.5 230.6 L414.3 229.2 L416.2 227.8 L418.1 226.4 L420.0 225.0 L422.4 224.4 L424.6 223.2 L427.0 222.6 L429.4 222.2 L430.7 220.7 L431.8 219.0 L433.1 217.5"/>
<path d="M292.5 222.2 L294.8 222.1 L296.9 221.0 L299.0 220.3 L301.2 219.7 L303.5 219.3 L305.6 218.4 L307.3 219.7 L309.4 219.8 L311.3 220.3 L313.1 221.3 L315.1 222.6 L317.2 223.7 L318.6 225.6 L320.6 226.9 L323.1 227.5 L325.6 226.5 L328.1 226.9 L329.1 228.7 L330.9 229.8 L331.9 231.6 L334.0 231.1 L335.7 229.8 L337.5 228.7 L339.2 227.3 L341.3 226.9 L342.9 228.5 L343.4 230.9 L345.0 232.5 L344.1 234.6 L342.4 236.2 L341.3 238.1 L341.5 240.4 L342.0 242.7 L342.2 245.0 L341.3 247.3 L341.4 249.9 L340.3 252.2 L338.1 252.3 L336.0 253.3 L333.8 253.1 L332.1 254.8 L329.9 255.8 L328.4 257.7 L326.3 258.8 L324.4 260.0 L322.2 260.3 L320.1 260.9 L318.4 262.4 L316.1 262.4 L314.1 263.4 L311.9 262.4 L309.5 262.1 L307.5 260.6 L305.6 261.2 L304.0 262.6 L301.9 262.6 L300.0 263.4 L298.1 264.2 L296.3 265.5 L294.4 266.3 L292.0 266.0 L289.8 265.0 L287.3 265.2 L285.0 264.4 L284.8 267.0 L284.6 269.6 L284.9 272.2 L284.1 274.7 L281.8 274.9 L280.0 276.5 L277.6 276.5 L275.6 277.5 L274.0 276.0 L272.1 274.8 L270.9 272.8 L268.8 272.7 L266.8 271.9 L264.7 271.7 L262.7 270.8 L260.6 270.9 L258.5 272.4 L255.8 272.4 L253.5 273.3 L251.3 274.7 L249.5 272.8 L248.5 270.5 L246.6 268.7 L245.6 266.3 L243.8 264.8 L242.0 263.3 L239.8 262.3 L238.3 260.4 L236.1 259.5 L234.4 257.8 L232.8 256.2 L232.0 254.1 L231.1 252.0 L229.7 250.3 L227.1 250.3 L224.5 250.2 L222.0 249.4 L219.4 249.4 L219.6 247.1 L219.0 244.7 L219.0 242.3 L219.4 240.0"/>
<path d="M345.0 232.5 L346.8 233.5 L347.7 235.4 L349.6 236.3 L350.6 238.1 L352.8 238.7 L354.8 239.9 L357.2 240.0"/>
<path d="M243.8 206.3 L245.3 204.5 L246.3 202.3 L248.1 200.8 L249.4 198.8 L251.7 198.9 L253.8 197.5 L256.1 197.6 L258.3 197.1 L260.6 196.9 L262.0 198.6 L262.6 200.9 L263.7 202.8 L265.3 204.4 L266.2 206.5 L267.7 208.1 L268.4 210.3 L270.0 211.9 L269.8 214.5 L268.7 216.9 L268.1 219.4 L266.3 220.9 L264.7 222.8 L262.5 223.8 L260.8 225.5 L258.8 226.9 L256.4 226.4 L254.0 226.0 L251.8 224.6 L249.4 224.1 L248.0 222.2 L247.0 220.1 L247.0 217.5 L245.6 215.6 L244.9 213.3 L244.8 210.9 L244.5 208.6 L243.8 206.3"/>
<path d="M448.1 230.6 L449.8 232.0 L450.6 234.2 L452.0 235.9 L453.8 237.2 L456.1 236.6 L458.5 237.6 L460.8 237.5 L463.1 237.2 L464.2 235.1 L464.4 232.6 L465.9 230.6"/>
<path d="M340.3 252.2 L341.3 254.2 L341.8 256.3 L342.9 258.2 L343.1 260.5 L344.3 262.4 L345.0 264.4 L346.1 266.6 L346.4 269.1 L347.5 271.3 L348.4 273.5 L349.7 275.6 L351.8 277.0 L354.3 277.8 L356.3 279.4 L357.8 280.7 L359.3 282.0 L360.3 283.8 L361.9 285.0 L364.1 285.7 L365.5 287.6 L367.7 288.2 L369.4 289.7 L370.6 291.7 L371.1 293.9 L372.0 296.0 L373.1 297.9 L374.1 300.0 L375.3 301.9 L376.5 303.8 L377.7 305.7 L379.5 307.3 L380.5 309.3 L381.6 311.3 L383.5 310.0 L385.7 309.9 L387.7 308.8 L389.7 308.0 L391.9 307.5 L393.9 308.2 L395.4 309.8 L397.5 310.3 L397.6 308.1 L399.1 306.3 L399.6 304.2 L399.4 302.0 L400.3 300.0 L402.3 301.1 L404.7 301.1 L406.6 302.3 L408.8 302.8 L410.1 301.5 L411.8 300.7 L413.4 300.0"/>
<path d="M397.5 310.3 L396.9 312.5 L396.2 314.7 L395.6 316.9 L393.9 318.3 L393.0 320.3 L391.6 321.9 L390.0 323.4 L391.8 324.8 L393.8 325.7 L395.7 326.8 L397.5 328.1 L395.7 329.6 L393.9 331.0 L392.1 332.6 L389.9 333.5 L388.1 335.0 L385.8 335.7 L383.9 337.0 L381.9 338.2 L380.0 339.4"/>
<path d="M421.9 304.7 L423.5 306.3 L425.9 306.7 L427.2 308.7 L429.4 309.4 L431.7 309.8 L433.9 310.8 L436.0 312.1 L438.4 312.2 L440.6 313.1 L440.3 315.6 L440.4 318.1 L439.7 320.6 L440.4 322.8 L441.6 324.7 L443.6 326.0 L444.4 328.1 L444.0 330.5 L442.8 332.5 L441.9 334.7 L444.3 334.5 L446.8 334.7 L449.2 334.0 L451.7 334.1 L454.1 333.8 L456.0 332.5 L458.2 331.6 L460.2 330.5 L462.5 330.0 L461.3 328.1 L460.1 326.2 L458.8 324.4 L459.2 321.9 L459.9 319.5 L459.7 316.9 L462.3 316.9 L464.9 317.2 L467.4 317.5 L470.0 317.8 L472.1 319.2 L474.6 319.5 L476.9 320.4 L479.1 321.5 L481.3 322.5 L481.2 325.0 L481.9 327.5 L482.1 330.0 L481.6 332.5 L482.0 335.0 L482.2 337.5 L482.3 339.6 L483.2 341.6 L483.2 343.8 L483.1 345.9"/>
<path d="M284.1 274.7 L283.7 276.8 L283.4 279.0 L282.2 280.9 L282.2 283.1 L283.4 285.0 L285.0 286.6 L285.5 288.9 L286.9 290.6 L287.8 292.8 L288.0 295.1 L288.5 297.3 L288.3 299.7 L288.8 301.9 L287.5 304.1 L286.8 306.5 L286.3 309.1 L285.0 311.3 L285.1 313.7 L285.5 316.0 L286.6 318.2 L286.9 320.6 L284.5 321.4 L281.9 321.5 L279.3 321.6 L276.8 322.2 L274.3 322.8 L271.9 323.8 L269.5 324.5 L267.5 325.9 L265.1 326.4 L262.9 327.6 L260.6 328.4 L258.3 329.5 L256.1 330.8 L254.0 332.4 L251.3 332.8 L249.5 335.0 L247.1 335.9 L244.7 336.9 L246.7 337.6 L248.2 339.3 L250.5 339.3 L252.2 340.6 L254.3 340.9 L256.3 341.6 L258.5 341.5 L260.6 341.6 L259.5 343.8 L259.5 346.3 L258.8 348.6 L258.3 351.0 L257.7 353.3 L256.9 355.6 L257.5 357.8 L258.3 359.9 L257.7 362.3 L258.5 364.5 L259.0 366.6 L259.7 368.8 L259.8 371.2 L260.3 373.6 L260.4 376.0 L259.7 378.4 L260.0 380.8 L260.5 383.2 L260.6 385.6 L261.1 388.0 L261.7 390.4 L263.6 392.3 L264.0 394.7 L264.8 397.0 L265.7 399.3 L266.3 401.6"/>
<path d="M193.1 240.0 L195.5 240.9 L197.7 242.0 L200.2 242.7 L202.5 243.8 L204.8 243.7 L206.7 242.0 L209.2 242.5 L211.3 241.5 L213.5 241.0 L215.6 240.0"/>
<path d="M395.6 323.8 L393.7 323.3 L391.8 322.8 L390.0 321.9 L391.1 323.6 L392.8 324.7 L394.2 326.1 L395.6 327.5 L393.7 329.0 L392.0 330.8 L389.9 332.1 L387.8 333.4 L386.6 335.7 L384.4 336.9 L382.3 338.1 L380.5 339.6 L378.2 340.5 L376.2 341.8 L374.5 343.6 L372.2 344.4 L373.3 346.4 L373.6 348.6 L373.9 350.8 L375.0 352.8 L376.4 354.3 L378.1 355.5 L380.2 356.0 L381.6 357.5 L380.8 359.5 L379.6 361.2 L378.9 363.2 L378.1 365.2 L376.9 366.9 L374.3 367.0 L371.9 368.0 L369.4 368.8 L367.0 369.2 L364.6 369.3 L362.1 369.3 L359.7 369.5 L357.3 369.8 L354.9 370.5 L352.5 370.6 L352.8 368.6 L352.2 366.8 L351.6 365.0 L351.4 367.2 L351.1 369.4 L350.3 371.6 L350.0 373.8 L348.8 375.8 L348.8 378.1 L347.5 379.9 L345.2 380.4 L343.9 382.4 L341.8 383.1 L340.3 384.7 L341.3 386.5 L342.6 388.3 L342.6 390.6 L344.1 392.2 L345.0 394.1 L346.8 395.9 L349.2 396.5 L351.3 397.7 L353.2 399.4 L355.3 400.6 L356.3 402.7 L356.5 405.0 L357.2 407.2 L355.6 408.6 L354.2 410.2 L353.3 412.3 L351.3 413.3 L350.0 415.0 L348.8 417.0 L347.2 418.8 L345.5 420.4 L344.4 422.5 L343.1 424.2 L342.9 426.5 L342.0 428.4 L340.4 429.9 L339.7 431.9"/>
</g>
<g fill="none" stroke="#1212F0" stroke-width="1.15" stroke-linejoin="round" stroke-linecap="round">
<path d="M169.7 165.0 L171.9 165.2 L173.9 166.0 L176.0 166.5 L176.7 169.0 L177.1 171.5 L177.8 174.0 L175.9 174.0 L174.1 174.8 L172.2 174.5 L171.1 172.8 L171.4 170.7 L170.5 169.0"/>
<path d="M35.6 140.6 L37.4 141.7 L39.1 143.0 L40.5 144.6 L42.0 146.0 L44.3 147.0 L46.5 148.3 L48.4 150.0 L49.6 151.8 L50.1 154.0 L51.6 155.6 L51.5 157.9 L51.7 160.1 L52.4 162.4 L52.3 164.6 L52.5 166.9 L51.5 169.2 L50.4 171.4 L49.2 173.5 L47.9 175.6 L46.0 177.4 L44.9 179.6 L44.0 181.9 L41.7 182.1 L39.4 182.6 L37.3 183.8 L35.0 184.2 L32.6 184.4 L30.3 184.8 L28.1 185.6 L26.0 186.4 L24.2 187.5 L22.8 189.4 L20.6 190.1 L18.8 191.3"/>
<path d="M88.1 219.4 L90.3 218.6 L92.4 217.8 L94.6 216.9 L96.7 216.1 L98.8 215.0 L101.0 214.2 L102.7 212.4 L105.0 211.9 L106.5 210.3 L108.5 209.1 L109.8 207.3 L111.6 205.9 L112.5 203.8 L114.4 202.5 L116.6 201.2 L118.6 199.8 L121.0 198.8 L123.2 197.6 L125.1 195.8 L127.5 195.0 L128.8 192.9 L130.3 191.1 L132.4 189.6 L133.7 187.7 L135.0 185.6 L136.7 183.9 L138.9 183.1 L140.4 181.1 L142.5 180.0 L145.0 179.5 L147.4 178.3 L150.0 178.1 L150.2 175.8 L151.8 174.0 L151.8 171.7 L152.8 169.7 L154.8 168.7 L157.2 168.8 L159.3 168.0 L161.3 166.9 L163.2 167.5 L165.0 168.5 L166.9 167.4 L168.2 165.6 L169.7 164.1 L170.1 166.3 L171.3 168.3 L171.6 170.6"/>
<path d="M117.2 245.0 L118.2 242.9 L118.9 240.8 L119.3 238.5 L120.0 236.3 L121.7 234.5 L123.4 232.7 L125.8 231.7 L127.5 230.0 L129.6 228.7 L131.3 226.9 L133.1 225.2 L135.2 224.0 L136.7 222.0 L139.0 220.9 L140.8 219.3 L142.5 217.5 L144.3 216.2 L146.3 215.0 L148.3 213.9 L149.8 212.2 L151.9 211.3 L153.8 210.0 L155.2 208.3 L155.8 206.1 L157.4 204.5 L158.5 202.6 L159.4 200.6 L161.2 199.7 L162.4 198.0 L164.1 196.9 L162.8 195.2 L162.5 193.0 L161.6 191.1 L160.3 189.4 L159.4 187.5 L160.6 185.7 L162.2 184.3 L164.0 183.1 L165.2 181.3 L166.9 180.0 L168.3 178.3 L168.8 176.3 L169.4 174.2 L170.6 172.5"/>
<path d="M170.6 172.5 L170.0 170.4 L169.5 168.2 L169.5 166.0 L171.7 166.5 L174.1 166.1 L176.3 166.9 L176.9 169.4 L177.6 171.9 L178.1 174.4 L180.5 175.1 L182.5 176.7 L184.7 177.8 L187.0 176.4 L189.6 176.0 L191.9 174.7 L194.3 173.9 L196.9 173.4 L199.2 172.9 L201.6 172.5 L202.2 174.1 L203.4 175.3 L205.4 174.4 L207.6 174.1 L209.8 174.0 L211.9 173.4 L213.7 172.1 L214.8 170.2 L216.0 168.5 L217.5 166.9 L219.6 168.0 L222.0 167.7 L224.1 168.8 L225.6 167.5 L226.4 165.5 L227.8 164.1 L229.6 165.4 L231.2 166.9 L232.5 168.8 L233.4 166.9 L232.6 165.1 L232.5 163.1 L231.6 161.3 L230.6 159.0 L230.3 156.6 L231.4 155.1 L232.5 153.6 L233.4 151.9 L235.7 151.5 L238.1 151.5 L240.4 150.7 L242.8 150.9 L244.6 150.1 L246.5 150.0 L248.4 150.0 L248.2 151.9 L248.4 153.8 L250.1 154.9 L251.8 155.9 L253.3 157.3 L255.0 158.4 L256.9 159.1 L258.8 159.6 L260.5 160.9 L262.5 161.3 L263.2 162.9 L264.6 164.2 L265.3 165.9 L264.9 168.1 L264.7 170.3 L264.4 172.5 L265.0 175.0 L266.3 177.2 L268.0 179.0 L270.0 180.5"/>
<path d="M239.1 98.0 L239.4 99.7 L239.1 101.3 L240.3 103.5 L242.5 104.8 L243.8 106.9 L243.9 108.8 L244.9 110.6 L244.7 112.5 L246.4 113.6 L247.5 115.5 L249.4 116.3 L249.4 118.2 L248.6 120.0 L248.4 121.9 L250.3 123.1 L252.2 124.3 L254.1 125.6 L256.3 126.1 L258.5 126.3 L260.6 127.1 L259.3 128.6 L259.1 130.7 L257.8 132.2 L256.1 133.7 L254.4 135.1 L252.2 135.9 L252.0 138.1 L251.3 140.2 L250.3 142.2 L250.3 144.4 L249.8 146.3 L249.4 148.3 L248.4 150.0"/>
<path d="M217.5 166.9 L216.8 169.2 L216.2 171.6 L215.8 174.0 L214.3 176.1 L214.5 178.7 L213.3 180.9 L212.2 183.1 L211.9 185.6 L213.3 187.6 L213.7 189.9 L214.6 192.1 L216.1 194.0 L216.7 196.3 L217.3 198.5 L218.4 200.6 L217.5 202.5 L216.3 204.3 L216.0 206.4 L215.0 208.2 L213.8 210.0 L212.2 211.6 L210.0 212.5 L207.9 213.4 L206.2 214.9 L204.2 216.0 L202.5 217.5 L200.4 218.9 L198.0 219.8 L196.2 221.6 L193.9 222.7 L191.5 223.6 L189.4 225.0 L188.5 227.4 L188.2 230.0 L187.5 232.5 L187.2 234.5 L186.3 236.3 L185.7 238.2 L184.7 240.0 L184.0 242.0 L182.5 243.6 L181.9 245.6 L180.7 247.9 L178.6 249.5 L177.1 251.5 L176.3 254.1 L174.4 255.9 L172.2 256.6 L169.9 257.1 L167.8 258.1 L165.4 258.3 L163.1 258.8 L160.8 259.0 L158.8 260.4 L156.5 260.5 L154.5 261.7 L152.2 261.8 L150.0 262.5 L147.9 263.2 L146.4 264.9 L144.6 266.2 L142.7 267.1 L140.6 267.8"/>
<path d="M174.4 255.9 L176.2 256.9 L178.2 257.7 L180.0 258.8 L182.1 259.4 L183.8 260.6 L185.6 262.1 L187.6 263.4 L189.8 264.5 L192.1 265.3 L193.9 266.9 L195.9 268.1 L194.9 270.1 L193.8 272.0 L192.0 273.5 L191.3 275.6 L189.6 277.0 L189.2 279.4 L187.5 280.9"/>
<path d="M266.3 177.2 L268.2 178.4 L270.0 179.7 L271.9 180.9 L270.1 182.5 L269.0 184.7 L267.7 186.4 L266.4 188.1 L265.0 189.7 L264.1 191.6 L262.5 193.1 L261.2 195.3 L259.9 197.4 L258.5 199.5 L257.9 202.1 L256.4 204.2 L255.0 206.3 L254.0 208.7 L251.9 210.5 L250.6 212.7 L249.8 215.3 L247.6 216.9 L246.6 219.4 L246.4 221.3 L247.0 223.2 L247.5 225.0 L245.5 226.3 L244.0 228.1 L242.2 229.6 L240.0 230.6 L239.0 232.9 L238.6 235.5 L237.5 237.8 L236.3 240.0 L234.6 241.9 L232.9 243.7 L230.7 245.0 L228.8 246.6 L226.5 247.6 L224.0 248.1 L221.7 249.4 L219.4 250.3 L217.6 252.1 L216.1 254.1 L214.3 255.8 L212.8 257.8 L213.3 259.9 L214.0 262.0 L213.7 264.3 L214.7 266.3 L215.8 268.3 L217.4 269.9 L219.0 271.5 L220.9 272.9 L222.2 274.7"/>
<path d="M265.3 165.9 L267.0 167.1 L268.5 168.4 L270.1 169.6 L271.9 170.6 L274.0 171.4 L275.9 172.5 L277.6 174.0 L279.4 175.3 L282.0 175.7 L284.3 176.9 L286.9 177.2 L289.2 178.1 L291.6 178.7 L293.9 179.4 L296.3 180.0 L297.3 182.0 L298.9 183.5 L299.8 185.6 L300.9 187.5 L301.4 189.7 L300.8 191.9 L301.9 194.0 L301.2 196.3 L302.2 198.4 L301.9 200.6 L300.2 202.4 L299.0 204.5 L297.5 206.3 L295.6 207.9 L294.4 210.0 L294.5 212.3 L294.1 214.6 L292.8 216.7 L292.9 219.0 L292.5 221.3 L293.6 223.5 L293.4 226.1 L294.1 228.4 L295.3 230.6 L294.1 232.7 L292.4 234.4 L291.1 236.5 L289.5 238.2 L287.8 240.0 L286.9 242.2 L286.7 244.6 L285.4 246.7 L285.3 249.2 L284.1 251.3 L282.6 253.1 L280.5 254.0 L279.1 255.9 L277.4 257.4 L275.6 258.8 L273.3 259.8 L271.1 261.1 L268.9 262.3 L266.9 263.7 L264.4 264.4 L262.8 266.1 L261.6 268.1"/>
<path d="M117.2 240.0 L117.7 242.3 L117.4 244.7 L117.7 247.1 L118.1 249.4 L118.9 251.5 L120.7 253.0 L121.8 254.9 L123.0 256.7 L123.8 258.8 L125.7 260.5 L126.9 262.7 L129.0 264.2 L130.3 266.3 L129.8 268.6 L129.7 271.0 L129.1 273.3 L128.5 275.6 L127.6 277.9 L127.5 280.3"/>
<path d="M371.3 245.0 L372.9 243.5 L375.2 242.9 L377.0 241.7 L379.0 240.8 L380.5 239.0 L382.5 238.1 L384.5 236.7 L386.8 236.0 L388.9 234.8 L390.8 233.3 L393.2 232.5 L395.1 231.0 L397.4 230.2 L399.4 228.8 L401.0 227.0 L403.0 225.7 L405.3 224.9 L406.9 223.1 L408.8 223.9 L410.8 224.7 L412.5 225.9 L413.5 227.4 L414.9 228.5 L416.3 229.7 L418.4 228.4 L420.8 227.9 L423.1 227.0 L425.1 225.6 L427.5 225.0 L429.0 223.0 L430.0 220.6 L431.6 218.6 L433.1 216.6"/>
<path d="M359.0 249.4 L361.3 249.2 L363.1 247.5 L365.5 247.5 L367.5 246.6 L369.3 245.5 L371.3 245.0"/>
<path d="M433.1 216.6 L433.7 218.9 L434.1 221.2 L434.7 223.5 L435.2 225.8 L435.6 228.1 L435.3 230.4 L434.7 232.6 L434.8 234.9 L434.0 237.1 L433.8 239.4 L433.4 241.6 L432.2 243.5 L431.3 245.5 L430.6 247.6 L429.4 249.4 L427.3 250.8 L425.8 252.8 L423.6 254.0 L421.9 255.9 L419.4 256.1 L417.3 257.6 L414.7 257.7 L412.5 258.8 L410.1 259.8 L407.9 261.2 L406.0 263.1 L403.6 264.0 L401.3 265.3 L399.0 266.3 L397.0 267.7 L394.8 268.9 L392.6 269.9 L390.4 271.0 L388.1 271.9 L385.9 272.6 L384.0 273.9 L382.0 274.8 L379.8 275.5 L377.8 276.6 L375.5 276.7 L373.5 278.0 L371.3 278.4 L369.1 279.8 L366.4 279.8 L364.1 280.9 L361.9 282.2 L359.3 282.5 L356.9 283.4 L354.5 284.3 L352.0 285.0 L349.5 285.5 L346.9 285.9 L344.7 286.7 L342.7 287.9 L340.3 288.0 L338.1 288.8 L336.2 290.3 L333.8 290.6 L331.5 290.6 L329.3 291.4 L326.9 291.3 L324.8 292.1 L322.5 292.5 L321.3 291.3 L319.7 290.6 L318.2 291.9 L316.5 293.0 L315.0 294.4 L312.5 295.0 L310.1 296.2 L307.5 296.3 L304.9 296.4 L302.5 295.9 L300.0 295.3 L297.4 295.4 L294.9 295.4 L292.3 295.3 L289.7 295.3 L287.7 296.3 L286.0 297.7 L284.2 299.0 L282.2 300.0 L280.5 301.3 L278.5 302.2 L277.0 303.7 L275.4 305.1 L273.8 306.6 L271.7 305.5 L269.2 305.4 L266.9 304.7 L264.6 304.0 L262.5 302.8 L260.8 304.3 L259.0 305.6 L256.8 306.2 L255.0 307.5 L253.2 308.7 L252.3 310.8 L250.4 311.9 L248.7 313.2 L247.5 315.0 L245.2 316.0 L243.3 317.8 L240.9 318.6 L238.9 320.2 L236.8 321.6 L234.4 322.5 L232.1 323.6 L229.5 323.6 L227.0 323.7 L224.7 325.2 L222.2 325.3"/>
<path d="M421.9 255.9 L422.4 258.0 L422.5 260.2 L422.8 262.4 L423.8 264.4 L422.9 266.4 L421.3 268.0 L420.2 269.9 L419.1 271.8 L418.1 273.8 L419.4 275.5 L420.4 277.3 L421.0 279.3 L421.6 281.4 L422.8 283.1 L422.0 285.1 L420.6 286.9 L419.7 288.9 L418.1 290.4 L417.0 292.3 L416.3 294.4 L415.9 296.3 L414.7 298.0 L414.7 300.0 L415.2 302.5 L414.4 305.0 L414.7 307.5 L412.8 308.6 L411.6 310.6 L409.6 311.5 L408.1 313.1 L406.2 314.2 L404.1 315.0 L402.7 316.8 L400.6 317.6 L398.8 318.8 L396.9 320.4 L395.5 322.4 L394.1 324.4 L395.8 325.4 L397.6 326.4 L398.7 328.3 L400.6 329.1 L402.1 330.8 L403.2 332.8 L405.4 333.9 L406.3 336.0 L408.1 337.5 L409.3 339.6 L410.7 341.5 L413.0 342.8 L414.2 344.9 L415.6 346.9 L417.7 347.6 L419.2 349.4 L421.3 350.1 L422.9 351.8 L425.0 352.5 L427.4 353.3 L429.6 354.7 L431.9 355.7 L434.4 356.3 L435.0 358.4 L434.9 360.6 L435.3 362.8 L433.0 363.7 L431.2 365.4 L429.2 366.9 L427.2 368.3 L425.0 369.4 L422.8 370.2 L421.1 371.9 L418.8 372.5 L416.8 373.7 L414.8 374.8 L412.8 375.9 L413.8 378.3 L413.9 380.9 L414.7 383.4 L413.2 384.8 L412.5 386.8 L411.3 388.5 L410.0 390.0 L408.9 391.5 L408.7 393.3 L408.1 395.0 L409.0 397.2 L409.9 399.5 L410.0 401.9 L408.5 403.3 L407.7 405.1 L406.3 406.6 L403.9 406.1 L401.6 405.6"/>
<path d="M435.3 362.8 L437.6 362.1 L440.0 362.3 L442.3 361.7 L444.7 361.2 L447.0 361.2 L449.4 360.9 L451.6 360.1 L453.8 359.3 L455.9 358.6 L458.0 357.6 L460.2 356.8 L462.5 356.3 L464.9 355.3 L466.9 353.8 L469.4 353.1 L471.7 352.0 L473.8 350.6 L476.2 349.7 L478.4 348.6 L480.3 346.9"/>
<path d="M322.5 292.5 L322.9 294.8 L323.3 297.1 L324.2 299.3 L324.7 301.5 L325.3 303.8 L325.1 306.0 L324.1 308.1 L324.6 310.4 L324.4 312.6 L324.0 314.8 L323.4 316.9 L324.4 319.1 L325.1 321.3 L325.9 323.5 L326.8 325.7 L327.2 328.1 L328.1 329.4 L328.8 331.7 L329.3 334.1 L329.5 336.5 L330.0 338.8 L329.0 340.3 L327.9 341.6 L326.3 342.5 L324.6 343.7 L322.5 344.4 L320.7 345.5 L318.8 346.3 L318.4 348.9 L318.3 351.4 L318.6 354.0 L318.4 356.6"/>
<path d="M329.0 340.5 L330.9 342.3 L333.1 343.6 L335.2 345.1 L337.5 346.3 L339.1 348.0 L341.4 348.7 L343.1 350.3 L344.8 351.9 L346.9 352.8 L349.1 354.1 L351.6 354.8 L354.1 355.3 L356.3 356.6 L358.5 357.9 L360.2 359.9 L362.8 360.4 L364.7 362.2 L366.7 363.6 L368.1 365.7 L370.3 366.9 L369.4 368.8 L368.4 370.6 L367.0 372.3 L365.3 373.6 L363.2 374.5 L361.9 376.3 L361.6 378.7 L361.0 381.0 L360.3 383.2 L360.0 385.6 L360.9 387.9 L362.4 389.8 L363.9 391.8 L364.7 394.1 L366.3 395.5 L368.4 396.3 L370.0 397.6 L371.6 399.0 L373.1 400.6 L374.8 402.4 L377.0 403.7 L378.6 405.7 L380.6 407.2 L383.0 407.6 L385.3 408.3 L387.5 409.4"/>
<path d="M326.6 417.8 L328.6 417.3 L329.8 419.5 L331.5 419.9 L333.3 420.0 L335.0 420.6 L337.1 421.2 L337.3 424.0 L338.8 425.3 L341.0 425.9 L342.5 427.2 L344.0 428.5 L346.1 429.2 L348.1 429.9 L348.8 432.2 L350.0 433.8 L351.7 435.0 L354.4 434.3 L355.2 437.5 L357.5 437.5 L358.5 435.8 L360.0 434.8 L361.2 433.4 L364.4 435.2 L365.0 432.8 L366.9 433.6 L368.8 434.1 L370.6 433.2 L372.5 432.8 L374.6 434.0 L374.2 436.0 L374.2 437.9 L376.0 439.2 L375.3 441.3 L375.9 443.7 L378.7 443.4 L380.0 445.0 L381.2 446.9 L378.9 448.8 L381.3 450.6 L380.0 452.5 L381.6 454.0 L383.3 452.3 L385.0 452.7 L386.6 452.5 L386.5 450.7 L387.4 449.2 L386.9 447.3 L388.4 445.9 L390.3 444.7 L391.3 447.8 L393.1 446.9 L394.4 448.6 L393.1 450.9 L395.5 452.3 L395.0 454.4 L396.4 456.5 L398.3 456.9 L400.6 456.3 L402.6 456.4 L404.3 455.7 L405.7 454.4 L407.2 453.4 L409.0 454.7 L411.7 453.3 L413.4 455.1 L415.1 456.8 L417.5 456.3 L419.7 456.0 L420.7 459.0 L422.7 459.6 L425.0 459.1 L426.8 459.8 L428.6 460.6 L430.1 461.8 L431.9 462.5 L433.4 463.8 L436.1 463.9 L436.6 461.0 L437.7 458.7 L439.5 457.7 L442.5 458.2 L443.8 456.3 L445.7 457.9 L447.5 456.2 L449.4 456.1 L451.3 456.2 L453.2 456.8 L455.0 455.9 L456.1 457.4 L455.4 459.1"/>
</g>
</g>
<path d="M10.3 153.8 L12.5 152.4 L14.7 151.1 L17.3 150.3 L19.3 148.6 L21.8 147.8 L24.0 146.5 L26.2 145.0 L28.7 144.2 L30.8 142.5 L33.3 141.7 L35.6 140.6 L37.4 138.9 L39.5 137.6 L41.8 136.6 L44.1 135.7 L45.7 133.7 L47.9 132.5 L50.2 131.5 L52.4 130.5 L54.3 128.9 L56.3 127.5 L58.4 126.0 L60.9 125.1 L62.5 122.8 L65.2 122.2 L67.0 120.2 L69.1 118.7 L71.2 117.2 L73.5 116.0 L75.9 115.1 L77.7 113.1 L80.1 112.0 L82.3 110.6 L84.4 109.1 L86.5 108.1 L88.8 107.5 L90.8 106.2 L93.0 105.3 L95.2 104.6 L97.5 104.1 L97.2 102.3 L96.4 100.7 L96.0 99.0 L98.2 98.6 L100.5 98.7 L102.8 98.4 L103.2 100.0 L103.5 101.6 L105.9 100.8 L108.4 100.7 L110.8 100.1 L113.1 99.0 L115.6 98.7 L118.0 98.1 L120.5 97.9 L122.8 96.9 L122.9 98.7 L123.7 100.4 L123.8 102.2 L122.7 104.3 L122.9 106.7 L121.9 108.8 L122.7 110.6 L123.0 112.6 L124.4 114.3 L124.7 116.3 L126.4 118.2 L128.4 119.7 L129.5 122.0 L131.3 123.8 L133.6 124.0 L135.8 123.7 L138.0 124.0 L140.3 123.3 L142.5 123.4 L142.9 121.3 L143.1 119.1 L143.3 117.0 L143.4 114.8 L145.5 113.7 L147.8 113.0 L150.0 112.1 L151.9 110.6 L153.8 111.5 L155.6 112.7 L157.7 113.0 L159.4 114.4 L161.7 115.3 L164.0 116.0 L166.3 117.0 L168.6 117.5 L171.2 117.7 L173.5 118.5 L175.7 119.5 L178.1 120.0 L179.0 122.2 L178.9 124.5 L179.6 126.7 L180.0 129.0 L180.0 131.3 L182.3 130.6 L184.7 131.1 L187.0 130.1 L189.4 130.3 L190.6 131.8 L191.3 133.5 L193.3 132.6 L195.6 132.2 L197.3 130.6 L199.5 130.2 L201.6 129.4 L203.7 128.3 L205.9 127.5 L207.9 126.3 L210.0 125.3 L211.9 123.8 L214.0 122.3 L216.2 121.2 L218.4 119.9 L220.8 119.2 L223.1 118.0 L225.0 116.3 L226.3 114.3 L228.0 112.6 L229.6 110.9 L231.2 109.1 L233.1 107.6 L234.8 105.9 L236.3 104.1 L236.3 101.9 L236.4 99.6 L237.2 97.5 L238.6 96.8 L240.0 96.2 L242.3 95.9 L244.5 96.0 L246.8 96.3 L249.1 95.9 L251.3 95.6 L252.2 97.7 L253.1 99.8 L255.7 99.8 L258.3 99.8 L260.8 99.0 L263.4 99.4 L264.3 97.6 L264.4 95.6 L263.2 93.5 L261.9 91.6 L260.5 89.8 L258.8 88.1 L258.4 86.2 L258.2 84.2 L257.6 82.3 L257.8 80.3 L259.9 79.5 L261.7 77.9 L263.8 76.9 L265.9 76.1 L268.1 75.4 L270.4 74.7 L272.8 74.5 L275.0 73.8 L277.4 73.3 L279.8 73.5 L279.9 75.7 L279.7 77.9 L279.1 80.1 L279.2 82.3 L278.4 84.4 L280.9 84.7 L283.4 84.3 L285.9 84.0 L288.3 84.1 L290.7 84.7 L293.0 85.3 L295.3 85.9 L296.1 83.8 L296.8 81.6 L298.1 79.7 L300.1 78.2 L301.9 76.5 L303.2 74.3 L305.0 72.6 L306.4 70.5 L308.4 69.0 L310.6 68.6 L312.8 68.8 L315.0 69.0 L316.8 70.8 L317.8 73.2 L319.7 75.0 L319.6 77.4 L319.3 79.8 L317.8 82.0 L317.8 84.4 L315.3 84.4 L312.8 84.8 L310.3 84.4 L310.3 86.1 L310.3 87.8 L312.9 87.6 L315.4 88.5 L318.0 89.3 L320.6 89.1 L322.6 88.8 L324.5 88.0 L326.3 87.2 L327.7 88.6 L328.9 90.2 L330.0 91.9 L331.4 90.0 L333.4 88.9 L334.9 87.1 L336.7 85.7 L337.9 83.7 L339.5 82.0 L341.3 80.6 L341.9 78.5 L342.4 76.3 L342.2 74.1 L343.8 73.5 L345.0 72.2 L347.0 73.7 L349.2 75.0 L351.6 75.9 L352.2 78.1 L353.5 80.0 L354.0 82.3 L354.8 84.4 L353.9 86.6 L353.2 88.8 L352.1 90.9 L350.6 92.8 L352.3 94.5 L353.8 96.4 L354.9 98.6 L356.2 100.6 L358.1 102.2 L358.8 104.5 L358.9 106.9 L360.0 109.1 L362.4 109.5 L364.7 109.2 L367.0 108.4 L369.4 108.4 L371.5 109.8 L373.1 111.6 L373.4 113.6 L373.4 115.6 L373.4 117.6 L373.1 119.6 L375.4 119.7 L377.6 120.0 L379.9 120.0 L382.1 119.6 L384.4 119.6 L386.3 118.5 L388.1 117.2 L390.2 118.0 L392.4 117.7 L394.4 118.8 L396.6 119.1 L398.7 118.0 L400.5 116.3 L402.4 114.8 L404.0 113.1 L405.9 111.6 L408.3 111.7 L410.6 112.5 L411.8 114.6 L413.6 116.1 L414.6 118.3 L416.3 120.0 L416.0 122.0 L416.9 123.9 L417.1 125.9 L417.2 127.9 L419.0 129.3 L421.1 130.1 L423.4 130.5 L425.4 131.5 L427.5 132.5 L429.3 133.8 L430.8 135.0 L432.6 135.4 L435.1 135.5 L437.4 134.6 L439.9 135.2 L442.3 134.6 L443.3 136.9 L445.1 138.6 L446.7 140.4 L448.9 140.0 L451.0 140.1 L453.2 139.8 L454.5 141.3 L455.7 142.9 L456.2 144.8 L454.5 145.6 L453.4 147.1 L452.1 148.4 L452.6 150.1 L453.2 151.7 L451.2 153.0 L449.9 155.0 L449.6 156.8 L448.8 158.5 L448.8 160.4 L446.9 161.7 L445.6 163.6 L446.5 165.7 L446.7 168.0 L445.2 169.8 L443.4 171.2 L444.0 173.0 L444.4 174.8 L444.5 176.7 L443.3 178.3 L442.5 180.1 L441.3 181.6 L440.1 183.2 L442.0 184.2 L443.4 185.8 L441.4 187.5 L440.1 189.7 L439.2 191.6 L438.0 193.3 L436.9 195.1 L435.7 196.5 L434.3 197.7 L433.6 199.4 L432.2 200.9 L430.4 202.0 L429.3 203.8 L428.9 205.6 L428.5 207.4 L428.2 209.2 L429.3 211.0 L430.9 212.5 L431.5 214.6 L433.7 215.6 L435.8 216.8 L436.1 219.3 L436.2 221.8 L435.2 224.3 L435.5 226.8 L437.7 226.0 L440.0 225.9 L442.3 225.5 L444.1 224.0 L445.6 222.2 L446.6 223.7 L447.9 225.0 L448.8 226.6 L450.6 226.3 L452.5 225.9 L454.3 225.5 L455.7 226.9 L457.5 227.7 L458.7 226.3 L460.4 225.6 L461.8 224.4 L463.6 225.9 L465.1 227.7 L467.2 226.7 L469.5 226.5 L471.6 225.5 L474.0 226.3 L476.5 227.2 L478.9 228.2 L481.4 228.7 L481.7 230.7 L482.9 232.4 L483.6 234.3 L485.9 234.4 L488.2 234.3 L490.5 234.2 L492.8 234.2 L494.0 236.5 L495.5 238.6 L496.8 240.9 L498.2 243.0 L499.1 245.5 L500.7 247.6 L502.2 249.7 L502.2 252.1 L503.1 254.4 L505.3 255.0 L507.6 254.3 L509.9 254.7 L512.1 255.2 L514.4 254.8 L513.1 256.4 L512.9 258.5 L511.9 260.3 L510.6 261.9 L509.0 263.6 L507.6 265.6 L505.8 267.1 L504.2 269.0 L502.2 270.3 L502.7 272.2 L503.2 274.1 L504.1 275.9 L505.3 278.1 L507.5 279.5 L508.8 281.6 L511.0 282.0 L513.2 282.1 L515.4 281.7 L517.5 282.6 L519.7 282.9 L521.9 282.5 L523.4 283.9 L524.0 285.9 L525.6 287.2 L527.0 288.6 L528.3 290.1 L529.7 291.6 L528.9 294.1 L528.9 296.7 L529.4 299.4 L528.8 301.9 L528.0 303.8 L527.1 305.6 L526.3 307.5 L528.1 309.1 L529.9 310.6 L531.5 312.4 L532.8 314.4 L534.7 315.9 L533.5 318.1 L531.5 319.7 L530.0 321.6 L527.6 321.7 L525.3 322.1 L523.0 321.8 L520.6 321.6 L520.0 323.7 L519.7 325.8 L519.7 328.0 L518.8 330.0 L516.3 330.6 L514.1 332.0 L511.8 332.9 L510.0 334.9 L507.5 335.6 L506.1 337.3 L504.7 339.1 L502.8 340.3 L503.2 342.7 L504.4 344.9 L505.3 347.2 L505.6 349.7 L503.8 350.4 L501.7 350.5 L500.0 351.6 L500.0 354.1 L500.9 356.6 L500.9 359.1 L499.1 360.2 L497.0 360.5 L496.9 358.3 L495.9 356.4 L495.3 354.4 L493.2 354.4 L491.1 355.3 L489.1 355.6 L486.9 355.3 L485.5 353.6 L483.7 352.2 L482.2 350.6 L480.1 351.7 L477.7 351.4 L475.6 352.5 L475.0 354.6 L474.4 356.6 L474.7 358.9 L473.8 360.9 L471.7 361.7 L470.3 363.7 L468.0 364.1 L466.3 365.6 L465.4 367.9 L464.6 370.2 L463.4 372.4 L462.1 374.5 L461.6 376.9 L461.5 379.4 L461.3 382.0 L460.6 384.4 L458.7 385.7 L456.9 387.0 L457.5 388.8 L457.9 390.6 L457.8 392.5 L456.4 394.2 L454.9 395.7 L453.1 396.9 L451.3 398.1 L450.5 400.1 L449.6 401.9 L448.2 403.6 L447.5 405.6 L447.1 407.9 L446.2 410.0 L445.6 412.2 L447.4 413.2 L448.8 414.5 L450.3 415.9 L449.6 418.1 L448.2 419.8 L447.2 421.8 L445.6 423.4 L445.8 425.8 L446.4 428.2 L447.3 430.5 L447.4 432.9 L449.4 433.4 L451.3 434.5 L453.4 434.6 L454.7 436.4 L454.8 438.7 L456.1 440.6 L456.9 442.6 L457.4 444.7 L458.6 446.6 L460.3 446.9 L462.0 447.5 L463.4 448.6 L464.7 449.9 L466.3 450.9 L465.2 452.7 L465.2 454.9 L464.1 456.6 L463.8 458.7 L465.4 459.8 L467.1 460.6 L468.9 461.3 L468.7 463.3 L468.5 465.3 L468.0 467.3 L466.8 469.1 L465.3 470.6 L463.8 472.1 L462.0 473.3 L462.6 475.4 L464.0 477.2 L464.6 479.3 L463.4 481.3 L461.9 483.0 L459.8 484.2 L458.6 486.2 L456.6 485.2 L454.4 484.7 L452.1 484.5 L450.0 483.6 L449.1 485.2 L447.9 486.6 L446.6 487.9 L444.5 487.6 L442.4 487.6 L440.4 486.9 L438.3 486.8 L436.3 486.2 L434.0 487.2 L431.9 488.6 L430.2 490.5 L429.6 492.2 L429.3 494.0 L428.5 495.6 L426.8 494.0 L424.4 493.5 L422.5 492.2 L420.4 493.0 L418.4 494.0 L416.1 494.3 L413.9 494.8 L412.2 496.0 L410.5 497.1 L408.8 498.2 L407.4 496.7 L406.5 494.7 L405.3 493.0 L405.0 490.8 L405.5 488.7 L405.5 486.6 L406.2 484.5 L404.9 482.7 L403.4 481.0 L402.2 479.1 L401.2 477.0 L400.2 475.0 L397.9 474.0 L395.9 472.3 L393.8 471.1 L391.6 469.8 L389.5 470.4 L387.5 471.4 L385.5 472.4 L386.6 470.6 L387.6 468.7 L388.0 466.6 L389.0 464.7 L387.1 463.1 L385.9 460.9 L383.6 459.8 L382.3 457.6 L380.4 456.1 L378.1 456.1 L375.8 456.9 L373.5 456.2 L371.2 456.3 L368.9 456.7 L366.6 457.0 L366.5 454.8 L365.8 452.7 L364.1 452.1 L362.3 452.5 L360.6 451.8 L359.6 449.7 L358.6 447.7 L357.9 445.5 L356.8 443.4 L355.5 441.5 L353.3 440.6 L350.9 440.4 L348.7 439.5 L346.3 439.4 L344.9 437.7 L343.3 436.1 L341.6 434.7 L339.4 434.8 L337.3 434.8 L335.2 434.4 L333.1 433.8 L330.8 434.4 L328.5 435.1 L326.1 434.8 L323.8 435.6 L324.2 433.4 L324.5 431.3 L324.7 429.1 L324.1 426.9 L323.5 424.8 L322.6 422.7 L321.9 420.6 L322.6 418.4 L324.5 417.0 L325.7 415.1 L326.6 413.1 L325.7 411.0 L324.8 409.0 L323.9 406.8 L322.4 405.1 L321.9 402.8 L320.2 401.4 L318.0 400.7 L316.0 399.7 L314.4 398.1 L314.0 396.6 L314.1 395.0 L315.4 393.2 L316.1 391.1 L317.7 389.5 L319.0 387.7 L319.7 385.6 L319.5 383.3 L319.1 381.0 L319.0 378.6 L318.8 376.3 L320.5 374.5 L322.1 372.7 L323.4 370.6 L324.7 368.6 L325.9 366.5 L326.5 364.1 L328.1 362.2 L326.4 361.1 L325.3 359.4 L322.7 359.0 L320.4 357.9 L317.8 357.5 L316.2 359.2 L314.3 360.6 L313.0 362.6 L311.3 364.1 L309.4 365.5 L307.5 366.9 L305.7 368.4 L304.0 370.1 L302.3 371.8 L300.9 373.8 L299.1 375.3 L299.7 377.5 L300.3 379.7 L300.9 381.9 L300.5 384.3 L300.4 386.7 L299.1 388.9 L299.1 391.3 L296.9 392.3 L294.4 392.1 L292.1 392.8 L290.1 394.4 L287.7 394.6 L285.3 394.9 L283.1 395.9 L280.9 396.9 L279.4 398.8 L277.6 400.4 L275.6 401.6 L273.4 402.5 L270.8 402.3 L268.7 403.7 L266.3 404.0 L264.1 403.4 L261.7 403.4 L259.5 402.5 L257.4 401.6 L255.0 401.6 L253.0 401.2 L251.4 399.7 L249.4 399.2 L247.5 398.4 L244.9 398.3 L242.5 398.9 L240.0 399.8 L237.4 399.4 L235.0 400.2 L232.5 400.6 L230.0 399.8 L227.8 398.6 L225.9 396.9 L225.3 394.4 L224.6 391.9 L224.1 389.4 L224.5 386.8 L224.9 384.3 L225.9 381.9 L227.9 380.4 L230.0 379.1 L232.3 378.3 L233.9 376.2 L236.3 375.3 L235.8 373.0 L235.1 370.7 L233.6 368.7 L233.7 366.2 L232.5 364.1 L230.2 363.2 L227.9 362.3 L225.4 362.2 L223.1 361.3 L223.9 359.4 L224.9 357.5 L226.4 355.9 L226.9 353.8 L227.0 351.4 L226.7 349.1 L226.8 346.8 L226.9 344.4 L228.9 342.8 L230.8 341.2 L233.0 339.8 L235.3 338.8 L235.7 336.9 L235.1 335.0 L235.3 333.1 L233.3 331.7 L230.9 331.5 L228.8 330.3 L227.7 332.0 L226.3 333.4 L225.0 335.0 L224.0 332.9 L223.5 330.7 L223.4 328.3 L222.2 326.3 L220.6 324.7 L218.7 323.5 L216.6 322.5 L215.1 320.5 L213.6 318.4 L212.0 316.6 L210.0 315.0 L208.1 314.9 L206.3 314.8 L204.4 315.0 L202.4 316.4 L199.9 316.6 L197.9 317.8 L195.6 318.5 L193.4 319.5 L191.3 320.6 L189.3 319.6 L187.3 318.7 L185.9 316.7 L183.8 315.9 L181.5 316.3 L179.1 315.9 L176.8 316.1 L174.4 316.1 L172.0 315.6 L169.7 315.9 L168.3 318.1 L168.0 320.7 L166.7 322.9 L165.9 325.3 L164.5 323.9 L163.5 322.1 L162.2 320.6 L161.3 318.5 L160.3 316.5 L159.5 314.4 L159.0 312.2 L159.5 310.5 L160.9 309.3 L161.3 307.5 L161.0 305.2 L160.4 302.8 L160.8 300.4 L160.6 298.0 L159.7 295.8 L159.4 293.4 L157.6 291.8 L156.1 289.9 L154.5 288.1 L153.3 286.1 L151.9 284.1 L149.4 284.5 L146.9 284.4 L144.4 284.4 L141.9 284.0 L139.4 283.7 L136.9 284.1 L138.1 282.0 L138.7 279.7 L139.7 277.5 L137.2 277.0 L134.7 276.2 L132.2 275.6 L131.9 278.0 L131.3 280.3 L129.1 281.3 L127.0 282.5 L124.6 283.1 L122.1 283.3 L120.0 284.6 L118.0 283.4 L116.5 281.5 L114.9 279.9 L113.3 278.1 L111.1 277.1 L109.4 275.5 L107.8 273.8 L107.4 271.6 L107.4 269.4 L107.3 267.2 L107.7 265.0 L107.4 262.8 L106.9 260.6 L106.3 258.1 L104.5 256.1 L103.6 253.8 L103.1 251.3 L103.7 249.1 L104.3 246.9 L104.2 244.5 L104.7 242.3 L105.0 240.0 L104.1 239.1 L102.1 237.8 L100.7 235.9 L99.5 233.8 L97.5 232.5 L96.7 230.1 L95.6 227.8 L94.6 225.5 L92.8 223.7 L91.9 221.3 L89.9 221.1 L88.0 220.4 L86.3 219.4 L85.0 220.6 L83.6 221.7 L82.5 223.1 L80.7 222.3 L78.8 222.3 L76.9 222.2 L74.6 223.3 L72.4 224.4 L70.3 225.9 L68.2 227.1 L66.1 228.2 L64.2 229.9 L61.9 230.6 L61.1 232.7 L61.2 234.9 L60.0 236.9 L60.0 239.1 L58.1 239.2 L56.3 239.6 L54.5 238.5 L52.7 237.3 L51.2 235.9 L49.7 234.4 L47.9 233.3 L46.0 232.3 L43.9 231.9 L42.2 230.6 L40.3 228.8 L39.2 226.5 L37.8 224.4 L36.1 222.4 L34.7 220.3 L33.8 218.5 L33.5 216.5 L32.8 214.7 L30.3 214.8 L28.1 214.0 L25.7 213.3 L23.4 212.8 L22.3 210.4 L20.5 208.5 L19.2 206.3 L17.3 204.4 L17.5 202.0 L17.6 199.7 L17.8 197.3 L18.4 195.0 L17.9 192.5 L16.5 190.3 L18.4 188.9 L19.8 187.0 L21.6 185.6 L20.4 183.4 L20.2 181.0 L19.7 178.6 L18.8 176.3 L17.2 175.1 L15.5 174.0 L14.1 172.5 L13.9 170.1 L13.9 167.8 L12.8 165.5 L12.2 163.2 L12.2 160.8 L11.9 158.5 L11.8 156.1 L11.3 153.8Z" fill="none" stroke="#222" stroke-width="2" stroke-linejoin="round"/>
<ellipse cx="331.9" cy="82.1" rx="2.8" ry="3.7" fill="#222" transform="rotate(25 331.9 82.1)"/>
<g fill="#0055FF">
<path d="M6.6 5 L19.7 5 C24 8 27 12 28.4 15.8 C29.6 20 29.9 25 29.4 29 C28.8 34 26 39 22.9 44 C21.2 47.5 20.6 50.5 20.5 54.3 L6.6 54.3 Z"/>
<path d="M56 7.6 L56 54.3 L24 54.3 C24.4 51 25.4 49 26.8 47.3 C29 44.5 31 42 32.3 39.4 C35 35.5 37.5 33.5 38.6 31.5 C40 29 40.3 27 40.7 25 C41.2 21 42 18.5 43.4 15.8 C45.5 12.5 48.5 10 54.3 8.5 Z"/>
<text x="4.7" y="70.7" font-size="22.3" font-family="Liberation Sans, sans-serif" textLength="54.2" lengthAdjust="spacingAndGlyphs">KMI</text>
</g>
</g>
<g transform="translate(640,0)">
<g clip-path="url(#cr)">
<rect x="0" y="60" width="560" height="447" fill="#FDFADC"/>
<path d="M137.0 118.0 L131.3 124.7 L135.0 129.4 L127.5 140.6 L120.0 153.8 L112.5 161.3 L105.0 161.3 L91.9 159.4 L82.5 170.6 L72.2 180.0 L70.3 191.3 L75.0 197.8 L93.8 198.8 L105.0 193.1 L120.0 187.5 L129.4 185.6 L133.0 200.0 L138.0 214.0 L150.0 222.0 L165.0 226.0 L187.0 228.0 L200.0 236.0 L219.4 240.0 L223.1 247.5 L234.4 255.0 L245.6 264.4 L255.0 266.3 L264.4 258.8 L273.8 255.0 L275.6 245.6 L283.0 245.0 L283.1 234.4 L296.3 238.1 L303.8 242.8 L324.4 230.6 L330.0 228.0 L345.0 232.0 L352.0 243.0 L361.9 258.8 L373.1 264.4 L361.9 273.8 L346.9 275.6 L337.5 283.1 L324.0 288.0 L324.0 300.0 L328.1 320.0 L335.6 329.4 L348.8 331.3 L373.1 327.5 L378.8 320.0 L380.0 300.0 L390.0 296.0 L416.0 296.0 L422.0 290.0 L424.0 280.0 L412.0 274.0 L424.0 258.0 L434.0 240.0 L447.0 231.0 L452.0 215.0 L470.0 215.0 L470.0 60.0 L137.0 60.0Z" fill="#F1F1E9"/>
<path d="M170.0 100.0 L168.8 118.1 L162.0 134.7 L159.0 156.8 L168.4 172.6 L174.7 191.6 L187.4 207.4 L203.2 213.7 L215.8 204.2 L218.9 191.6 L215.8 175.8 L225.3 172.6 L234.7 168.0 L247.4 166.3 L252.0 158.0 L250.0 145.0 L243.0 142.0 L240.0 152.0 L228.4 150.5 L234.7 141.0 L231.6 128.4 L231.0 116.0 L238.0 95.0Z" fill="#FDFADC"/>
<path d="M177.9 147.4 L190.5 139.5 L212.6 134.7 L231.6 128.4 L234.7 141.0 L228.4 150.5 L203.2 155.3 L184.2 153.7Z" fill="#F1F1E9"/>
<path d="M350.6 189.4 L361.9 185.6 L375.0 190.3 L391.9 195.9 L390.0 206.3 L371.3 213.8 L361.9 221.3 L356.3 230.6 L352.5 240.0 L345.0 230.6 L330.0 225.0 L327.2 217.5 L341.3 202.5 L352.5 195.0Z" fill="#FDFADC"/>
<path d="M332.8 140.6 L341.3 135.0 L352.5 135.0 L361.9 140.6 L364.7 148.1 L360.0 153.8 L352.5 157.5 L345.0 153.8 L335.6 148.1Z" fill="#FDFADC"/>
<path d="M429.4 155.0 L433.1 142.5 L438.8 136.9 L460.0 130.0 L460.0 160.0 L444.4 168.8 L438.8 174.4 L435.0 165.0Z" fill="#FDFADC"/>
<path d="M416.3 234.4 L427.5 230.6 L433.1 232.5 L431.3 238.1 L420.0 239.1Z" fill="#FDFADC"/>
<path d="M281.3 321.9 L285.0 335.0 L296.3 339.7 L305.6 333.1 L311.3 320.0 L300.0 296.3 L288.8 300.0 L283.1 311.3Z" fill="#F1F1E9"/>
<ellipse cx="265.3" cy="352.8" rx="8" ry="8" fill="#F1F1E9"/>
<path d="M380.6 366.9 L384.4 351.9 L393.8 340.6 L405.0 335.0 L416.3 342.5 L420.0 355.0 L414.4 385.6 L405.0 395.0 L390.0 398.8 L382.5 387.5Z" fill="#F1F1E9"/>
<path d="M378.1 385.0 L381.9 394.4 L389.4 400.9 L398.8 396.3 L406.3 385.0 L395.0 378.0Z" fill="#F1F1E9"/>
<path d="M437.0 222.0 L410.0 270.0 L418.0 290.0 L412.0 340.0 L430.0 352.0 L470.0 340.0 L490.0 335.0 L505.0 325.0 L520.0 308.0 L532.0 298.0 L545.0 280.0 L545.0 215.0Z" fill="#F1F1E9"/>
<path d="M126.0 95.0 L123.8 103.1 L122.8 112.5 L120.0 123.8 L112.5 135.0 L101.3 142.5 L78.8 151.9 L63.8 161.3 L52.5 172.5 L46.9 180.0 L37.5 185.0 L20.0 190.0 L0.0 190.0 L0.0 95.0Z" fill="#FFF1C1"/>
<path d="M0.0 188.0 L30.0 186.6 L37.5 191.3 L48.8 189.4 L54.4 183.8 L58.1 198.8 L61.9 208.1 L75.0 213.8 L88.1 214.7 L93.8 219.4 L101.3 222.2 L112.5 225.0 L123.8 232.5 L138.8 243.8 L157.5 249.4 L170.6 247.5 L187.5 249.4 L202.5 258.8 L215.6 273.8 L228.8 283.1 L225.0 301.9 L228.8 315.0 L225.0 324.4 L222.0 340.0 L160.0 340.0 L90.0 260.0 L0.0 240.0Z" fill="#FFF1C1"/>
<path d="M220.0 376.0 L236.3 374.4 L262.5 370.6 L285.0 372.5 L300.0 368.8 L305.0 380.0 L300.0 410.0 L220.0 410.0Z" fill="#FFF1C1"/>
<path d="M311.3 357.5 L315.0 346.3 L322.0 344.0 L330.0 355.6 L339.4 354.7 L348.8 357.5 L367.5 365.0 L367.5 376.3 L360.0 391.3 L367.5 398.8 L382.5 404.4 L397.5 402.5 L405.0 396.9 L415.0 392.0 L430.0 385.0 L462.0 376.0 L480.0 376.0 L480.0 520.0 L310.0 520.0 L310.0 390.0Z" fill="#FFF1C1"/>
<path d="M319.0 390.6 L333.1 396.3 L346.3 405.6 L350.0 413.1 L344.4 420.6 L333.1 428.1 L322.0 422.0 L326.0 413.0 L321.0 402.0 L314.0 398.0Z" fill="#FDFADC"/>
<path d="M365.0 385.0 L372.5 396.3 L380.0 405.6 L389.4 411.3 L398.8 405.6 L410.0 400.0 L417.5 390.6 L421.3 385.0 L405.0 380.0 L380.0 378.0Z" fill="#FDFADC"/>
<path d="M378.1 385.0 L381.9 394.4 L389.4 400.9 L398.8 396.3 L406.3 385.0 L395.0 378.0Z" fill="#F1F1E9"/>
<path d="M126.0 95.0 L116.3 100.3 L117.2 108.8 L107.8 118.1 L101.3 127.5 L84.4 138.8 L65.6 148.1 L46.9 159.4 L28.1 168.8 L16.9 173.4 L0.0 176.0 L0.0 95.0Z" fill="#FEDD9D"/>
<path d="M100.0 249.4 L121.9 249.4 L135.0 256.9 L142.5 264.4 L161.3 263.4 L164.1 275.6 L164.1 285.9 L157.5 288.8 L150.0 295.0 L100.0 290.0Z" fill="#FEDD9D"/>
<path d="M161.3 310.3 L170.6 313.1 L170.0 320.0 L160.0 322.0Z" fill="#FEDD9D"/>
<path d="M116.3 245.5 L120.0 238.1 L129.4 240.0 L135.0 245.5Z" fill="#FEDD9D"/>
<path d="M230.6 391.3 L243.8 384.7 L255.0 385.6 L261.6 393.1 L263.4 400.6 L266.0 410.0 L225.0 410.0 L222.0 395.0Z" fill="#FEDD9D"/>
<path d="M338.4 370.6 L345.0 365.9 L360.0 366.9 L362.8 372.5 L357.2 381.9 L348.8 384.7 L341.3 380.0Z" fill="#FEDD9D"/>
<path d="M456.9 392.5 L445.6 388.8 L436.3 394.4 L421.3 400.0 L406.3 407.5 L396.9 411.3 L391.3 420.6 L383.8 428.1 L374.4 433.8 L365.0 432.0 L357.5 438.4 L350.0 445.0 L350.0 520.0 L480.0 520.0 L480.0 392.0Z" fill="#FEDD9D"/>
<path d="M314.0 264.4 L323.4 264.4 L323.4 274.7 L314.0 274.7Z" fill="#FFF1C1"/>
<path d="M0.0 165.0 L15.0 160.3 L33.8 157.5 L46.9 151.9 L65.6 142.5 L84.4 131.3 L93.8 121.9 L94.7 114.4 L91.9 108.8 L88.0 104.0 L0.0 104.0Z" fill="#FDBA64"/>
<path d="M118.1 273.8 L123.8 271.9 L127.5 276.6 L126.6 281.3 L120.0 282.2 L116.0 278.0Z" fill="#FDBA64"/>
<path d="M447.5 401.9 L432.5 407.5 L417.5 413.1 L406.3 418.8 L400.6 428.1 L408.1 435.6 L410.0 445.0 L402.5 453.4 L395.0 457.2 L385.6 456.3 L378.0 458.0 L378.0 520.0 L480.0 520.0 L480.0 400.0Z" fill="#FDBA64"/>
<path d="M24.4 146.3 L33.8 145.3 L34.7 148.1 L28.1 150.0Z" fill="#FD9A2C"/>
<path d="M450.0 437.2 L443.1 438.9 L431.1 445.8 L424.2 452.7 L419.1 461.3 L412.2 469.8 L404.5 475.0 L398.0 478.0 L398.0 520.0 L480.0 520.0 L480.0 437.0Z" fill="#FD9A2C"/>
<path d="M455.0 441.3 L453.4 444.1 L455.2 454.4 L458.6 464.7 L456.9 473.3 L447.4 481.0 L445.0 492.0 L480.0 492.0 L480.0 441.0Z" fill="#E26F14"/>
<path d="M243.8 97.5 L251.3 112.5 L260.6 123.8 L268.1 131.3 L279.4 135.0 L298.1 133.1 L303.8 127.5 L300.0 118.1 L295.3 110.6 L296.3 101.3 L304.7 95.6 L308.4 103.1 L311.3 114.4 L320.6 118.1 L337.5 118.1 L350.6 112.5 L360.0 116.3 L369.4 123.8 L373.0 121.0 L375.0 105.0 L360.0 60.0 L245.0 60.0 L240.0 96.0Z" fill="#DDDDDD"/>
<path d="M372.0 120.0 L384.4 125.6 L386.3 133.1 L384.4 140.6 L388.1 151.9 L391.9 163.1 L401.3 150.0 L406.9 148.1 L412.5 135.0 L415.3 127.5 L418.0 120.0 L408.0 105.0 L380.0 112.0Z" fill="#DDDDDD"/>
<path d="M311.3 195.0 L315.0 183.8 L324.4 172.5 L335.6 169.7 L339.4 178.1 L333.8 189.4 L322.5 196.9 L315.0 202.5Z" fill="#DDDDDD"/>
<path d="M417.2 178.1 L421.9 174.4 L425.6 180.0 L420.9 196.9 L417.2 189.4Z" fill="#DDDDDD"/>
<path d="M251.3 226.9 L258.8 219.4 L276.6 211.9 L276.6 225.0 L268.1 236.3 L251.3 238.1Z" fill="#DDDDDD"/>
<path d="M245.6 243.8 L255.0 240.0 L261.6 240.0 L258.8 245.6 L249.4 248.4Z" fill="#DDDDDD"/>
<path d="M420.0 264.4 L412.5 268.1 L397.5 271.9 L382.5 277.5 L375.0 285.0 L384.4 292.5 L401.3 289.7 L416.3 290.6 L422.0 280.0 L411.0 274.0Z" fill="#DDDDDD"/>
<path d="M437.0 227.3 L432.0 242.1 L424.7 256.9 L410.6 273.8 L421.9 279.4 L423.8 286.9 L421.9 301.9 L416.3 315.0 L414.4 335.0 L418.5 340.0 L430.0 345.0 L445.0 338.0 L465.0 332.0 L481.9 335.0 L481.9 328.1 L496.9 322.5 L506.3 315.0 L515.6 303.8 L527.8 296.3 L525.0 286.9 L523.0 283.0 L545.0 280.0 L545.0 215.0 L437.0 215.0Z" fill="#DDDDDD"/>
<path d="M386.3 374.4 L388.1 363.1 L393.8 351.9 L403.1 346.3 L410.6 353.8 L411.6 366.9 L406.9 380.0 L397.5 390.3 L390.0 389.4Z" fill="#DDDDDD"/>
<path d="M385.6 385.0 L391.3 391.6 L398.8 388.8 L402.5 385.0 L395.0 381.0Z" fill="#DDDDDD"/>
<path d="M342.2 76.9 L345.0 70.0 L352.5 72.0 L358.0 84.4 L352.0 92.8 L354.4 100.3 L348.8 99.4 L345.0 88.1Z" fill="#C2C2C2"/>
<path d="M254.0 223.0 L270.0 214.7 L271.0 221.0 L260.6 226.9Z" fill="#C2C2C2"/>
<path d="M440.7 226.0 L439.4 237.2 L434.5 254.4 L432.0 271.7 L429.6 291.4 L425.6 303.8 L423.8 318.8 L421.9 330.0 L427.5 335.0 L437.0 338.3 L448.1 335.0 L450.0 328.1 L461.3 320.6 L480.0 318.8 L491.3 311.3 L496.9 296.3 L506.3 288.8 L515.6 285.0 L508.0 281.0 L503.0 273.0 L514.0 258.0 L520.0 250.0 L500.0 225.0 L470.0 215.0 L440.0 215.0Z" fill="#C2C2C2"/>
<path d="M395.6 370.6 L402.2 360.3 L404.1 370.6 L401.3 379.1Z" fill="#C2C2C2"/>
<path d="M445.6 242.1 L453.0 237.2 L461.6 237.2 L461.3 240.0 L460.3 251.3 L456.6 264.4 L467.8 270.9 L475.3 264.4 L476.3 256.9 L487.5 251.3 L496.2 245.8 L501.0 252.0 L516.0 254.0 L510.6 261.9 L502.2 270.3 L502.5 276.6 L493.1 285.0 L487.5 300.0 L478.1 309.4 L465.0 311.3 L450.0 315.0 L439.7 318.8 L436.9 328.1 L430.3 328.1 L429.4 311.3 L431.3 292.5 L435.0 277.5 L437.8 258.8 L440.6 247.5Z" fill="#8F8F8F"/>
<path d="M446.3 294.4 L459.4 286.9 L468.8 283.1 L480.0 282.2 L480.9 288.8 L476.3 296.3 L463.1 301.9 L453.8 303.8 L448.1 301.9Z" fill="#646464"/>
<g fill="none" stroke="#BABABA" stroke-width="1.05" stroke-linejoin="round">
<path d="M124.7 116.3 L124.9 118.4 L125.4 120.5 L125.2 122.6 L125.6 124.7 L123.9 126.3 L121.9 127.5 L122.9 129.7 L123.2 132.1 L125.2 133.9 L125.8 136.1 L126.4 138.5 L127.5 140.6 L126.4 142.9 L124.9 144.9 L122.8 146.4 L121.1 148.3 L120.3 150.8 L119.0 152.9 L117.2 154.7 L118.6 156.6 L120.8 157.5 L122.3 159.2 L124.1 160.7 L125.8 162.2 L127.3 163.9 L129.4 165.0 L129.2 167.3 L129.8 169.4 L130.0 171.6 L130.3 173.8 L130.8 175.9 L131.3 178.1 L130.4 180.0 L129.7 182.0 L128.7 183.9 L127.5 185.6 L128.0 188.1 L129.2 190.4 L130.8 192.5 L131.3 195.0 L132.2 196.6 L134.0 197.3 L135.0 198.8 L134.1 200.6 L133.8 202.5 L133.1 204.4 L134.7 205.6 L136.2 207.0 L137.3 208.7 L138.8 210.0 L139.5 212.5 L139.9 215.0 L140.6 217.5 L139.1 219.2 L137.7 221.0 L136.4 222.9 L135.3 224.9 L134.1 226.9 L136.6 227.7 L139.3 227.3 L141.8 228.0 L144.4 227.8 L144.5 230.2 L145.3 232.5 L147.3 233.3 L149.5 232.8 L151.5 233.7 L153.5 234.0 L155.6 234.4 L156.7 232.4 L158.5 230.9 L160.1 229.3 L161.2 227.2 L163.1 225.9 L165.3 224.9 L167.8 225.1 L170.1 224.4 L172.5 224.1 L173.3 226.6 L174.7 228.6 L176.3 230.6 L178.6 231.2 L180.9 231.5 L183.3 231.0 L185.6 231.6 L187.4 232.3 L189.4 232.5 L190.6 230.7 L192.1 229.2 L193.8 227.9 L195.2 226.3 L196.9 225.0 L199.1 224.0 L201.6 224.1 L204.1 224.1 L206.3 223.1 L207.9 221.5 L209.9 220.6 L212.1 220.2 L213.8 218.6 L215.6 217.5 L215.6 215.2 L215.6 212.8"/>
<path d="M49.7 227.8 L52.1 226.8 L54.6 226.3 L56.9 225.2 L59.6 225.2 L61.9 224.1 L62.6 221.6 L63.8 219.4 L65.9 218.5 L68.2 218.0 L70.0 216.4 L72.2 215.6 L71.9 217.9 L72.5 220.0 L73.1 222.2"/>
<path d="M97.5 225.9 L99.7 226.8 L102.1 226.1 L104.2 227.3 L106.5 227.4 L108.8 227.8 L109.8 229.8 L111.7 231.0 L112.6 233.1 L114.4 234.4 L116.1 236.0 L117.2 238.1"/>
<path d="M189.4 232.5 L190.3 233.5 L191.3 234.4 L191.8 236.5 L193.2 238.1 L193.8 240.1 L195.0 241.9 L197.2 242.6 L199.5 242.3 L201.8 242.7 L204.0 242.9 L206.3 242.8 L208.6 242.6 L210.5 241.0 L212.7 240.6 L215.2 240.9 L217.3 240.0 L219.4 239.1 L221.1 237.9 L223.3 237.5 L225.0 236.3 L227.5 236.2 L230.0 236.7 L232.5 237.1 L235.0 237.2 L237.6 237.4 L240.0 238.1 L242.3 237.7 L244.5 237.6 L246.7 236.8 L249.1 236.8 L251.3 236.3 L253.4 235.9 L254.8 233.9 L256.8 233.2 L258.8 232.5 L260.9 231.6 L263.2 231.8 L265.3 231.0 L267.5 230.6 L269.7 229.9 L271.9 229.7 L272.9 231.5 L274.1 233.0 L275.6 234.4 L277.4 233.2 L279.6 232.5 L281.1 230.8 L283.0 229.8 L285.0 228.8 L287.4 229.9 L290.1 229.7 L292.5 230.6"/>
<path d="M219.4 193.1 L221.6 192.1 L222.9 190.0 L225.1 189.0 L226.9 187.5 L227.6 185.3 L228.9 183.2 L229.0 180.7 L229.8 178.5 L230.6 176.3 L232.5 174.9 L234.3 173.2 L236.5 172.2 L238.4 170.7 L240.0 168.8 L242.3 169.1 L244.5 168.3 L246.8 169.4 L249.0 168.9 L251.3 168.8 L253.1 170.4 L255.0 171.8 L256.9 173.3 L258.4 175.2 L260.6 176.3 L262.9 176.0 L265.1 175.9 L267.4 176.9 L269.6 176.0 L271.9 176.3 L274.3 175.8 L276.7 175.7 L279.2 176.0 L281.5 175.1 L283.9 174.4 L286.4 174.4 L288.8 174.4 L290.9 173.8 L293.1 173.2 L295.4 173.9 L297.6 173.4 L299.7 172.4 L301.9 172.5 L304.1 171.6 L306.5 171.9 L308.7 171.1 L310.8 170.2 L313.1 169.7 L314.3 171.3 L315.2 173.2 L316.9 174.4 L319.0 173.2 L321.4 172.7 L323.4 171.0 L325.9 170.6 L328.1 169.7 L330.1 169.0 L332.2 168.8 L334.3 168.4 L336.3 168.1 L338.4 167.8 L340.2 166.2 L341.1 164.0 L342.2 161.8 L344.1 160.3 L346.3 159.6 L348.4 158.6 L350.4 157.4 L352.1 155.7 L354.2 154.7 L356.3 153.8 L358.3 153.5 L359.9 152.1 L361.9 151.9 L363.5 150.5 L365.7 150.0 L367.4 148.8 L369.4 148.1 L371.3 147.5 L373.0 146.5 L375.0 146.3 L376.2 143.9 L376.3 141.3 L376.9 138.8 L375.4 137.0 L374.1 135.2 L372.7 133.3 L371.9 131.1 L370.3 129.4 L370.9 127.1 L371.1 124.7 L371.6 122.4 L371.3 120.0"/>
<path d="M338.4 167.8 L340.8 168.6 L342.5 170.8 L345.0 171.6 L346.7 170.1 L348.9 169.5 L350.8 168.4 L352.5 166.9 L355.0 167.5 L357.5 167.3 L360.0 167.8 L361.5 169.6 L362.8 171.6 L361.1 172.3 L359.4 173.0 L358.1 174.4 L356.6 175.7 L355.3 177.2 L354.0 178.7 L352.5 180.0 L352.6 181.9 L352.2 183.7 L352.5 185.6 L351.0 186.9 L349.3 188.1 L347.8 189.4 L348.6 191.0 L349.5 192.6 L350.6 194.1 L353.0 193.5 L355.3 193.8 L357.6 194.3 L360.0 194.1 L361.8 195.1 L363.6 196.3 L365.9 196.4 L367.5 197.8 L366.6 199.6 L365.1 201.1 L363.7 202.6 L362.8 204.4 L362.6 206.7 L361.4 208.8 L361.2 211.1 L360.8 213.4 L360.0 215.6 L358.7 217.8 L358.6 220.5 L356.7 222.5 L356.3 225.0 L356.7 227.2 L356.8 229.4 L357.1 231.5 L356.9 233.7 L356.6 235.9 L357.2 238.1 L359.6 239.1 L361.6 240.7 L363.8 241.9 L365.0 240.3 L366.1 238.6 L367.5 237.2 L369.9 236.4 L372.5 236.8 L375.0 236.1 L377.5 235.9 L380.0 235.7 L382.5 235.3 L384.6 233.9 L387.2 233.8 L389.5 232.9 L391.4 231.3 L393.8 230.6 L396.0 231.9 L398.4 232.7 L400.9 233.2 L403.1 234.4 L405.3 233.2 L407.6 232.0 L410.1 231.5 L412.5 230.6 L414.3 229.2 L416.2 227.8 L418.1 226.4 L420.0 225.0 L422.4 224.4 L424.6 223.2 L427.0 222.6 L429.4 222.2 L430.7 220.7 L431.8 219.0 L433.1 217.5"/>
<path d="M292.5 222.2 L294.8 222.1 L296.9 221.0 L299.0 220.3 L301.2 219.7 L303.5 219.3 L305.6 218.4 L307.3 219.7 L309.4 219.8 L311.3 220.3 L313.1 221.3 L315.1 222.6 L317.2 223.7 L318.6 225.6 L320.6 226.9 L323.1 227.5 L325.6 226.5 L328.1 226.9 L329.1 228.7 L330.9 229.8 L331.9 231.6 L334.0 231.1 L335.7 229.8 L337.5 228.7 L339.2 227.3 L341.3 226.9 L342.9 228.5 L343.4 230.9 L345.0 232.5 L344.1 234.6 L342.4 236.2 L341.3 238.1 L341.5 240.4 L342.0 242.7 L342.2 245.0 L341.3 247.3 L341.4 249.9 L340.3 252.2 L338.1 252.3 L336.0 253.3 L333.8 253.1 L332.1 254.8 L329.9 255.8 L328.4 257.7 L326.3 258.8 L324.4 260.0 L322.2 260.3 L320.1 260.9 L318.4 262.4 L316.1 262.4 L314.1 263.4 L311.9 262.4 L309.5 262.1 L307.5 260.6 L305.6 261.2 L304.0 262.6 L301.9 262.6 L300.0 263.4 L298.1 264.2 L296.3 265.5 L294.4 266.3 L292.0 266.0 L289.8 265.0 L287.3 265.2 L285.0 264.4 L284.8 267.0 L284.6 269.6 L284.9 272.2 L284.1 274.7 L281.8 274.9 L280.0 276.5 L277.6 276.5 L275.6 277.5 L274.0 276.0 L272.1 274.8 L270.9 272.8 L268.8 272.7 L266.8 271.9 L264.7 271.7 L262.7 270.8 L260.6 270.9 L258.5 272.4 L255.8 272.4 L253.5 273.3 L251.3 274.7 L249.5 272.8 L248.5 270.5 L246.6 268.7 L245.6 266.3 L243.8 264.8 L242.0 263.3 L239.8 262.3 L238.3 260.4 L236.1 259.5 L234.4 257.8 L232.8 256.2 L232.0 254.1 L231.1 252.0 L229.7 250.3 L227.1 250.3 L224.5 250.2 L222.0 249.4 L219.4 249.4 L219.6 247.1 L219.0 244.7 L219.0 242.3 L219.4 240.0"/>
<path d="M345.0 232.5 L346.8 233.5 L347.7 235.4 L349.6 236.3 L350.6 238.1 L352.8 238.7 L354.8 239.9 L357.2 240.0"/>
<path d="M243.8 206.3 L245.3 204.5 L246.3 202.3 L248.1 200.8 L249.4 198.8 L251.7 198.9 L253.8 197.5 L256.1 197.6 L258.3 197.1 L260.6 196.9 L262.0 198.6 L262.6 200.9 L263.7 202.8 L265.3 204.4 L266.2 206.5 L267.7 208.1 L268.4 210.3 L270.0 211.9 L269.8 214.5 L268.7 216.9 L268.1 219.4 L266.3 220.9 L264.7 222.8 L262.5 223.8 L260.8 225.5 L258.8 226.9 L256.4 226.4 L254.0 226.0 L251.8 224.6 L249.4 224.1 L248.0 222.2 L247.0 220.1 L247.0 217.5 L245.6 215.6 L244.9 213.3 L244.8 210.9 L244.5 208.6 L243.8 206.3"/>
<path d="M448.1 230.6 L449.8 232.0 L450.6 234.2 L452.0 235.9 L453.8 237.2 L456.1 236.6 L458.5 237.6 L460.8 237.5 L463.1 237.2 L464.2 235.1 L464.4 232.6 L465.9 230.6"/>
<path d="M340.3 252.2 L341.3 254.2 L341.8 256.3 L342.9 258.2 L343.1 260.5 L344.3 262.4 L345.0 264.4 L346.1 266.6 L346.4 269.1 L347.5 271.3 L348.4 273.5 L349.7 275.6 L351.8 277.0 L354.3 277.8 L356.3 279.4 L357.8 280.7 L359.3 282.0 L360.3 283.8 L361.9 285.0 L364.1 285.7 L365.5 287.6 L367.7 288.2 L369.4 289.7 L370.6 291.7 L371.1 293.9 L372.0 296.0 L373.1 297.9 L374.1 300.0 L375.3 301.9 L376.5 303.8 L377.7 305.7 L379.5 307.3 L380.5 309.3 L381.6 311.3 L383.5 310.0 L385.7 309.9 L387.7 308.8 L389.7 308.0 L391.9 307.5 L393.9 308.2 L395.4 309.8 L397.5 310.3 L397.6 308.1 L399.1 306.3 L399.6 304.2 L399.4 302.0 L400.3 300.0 L402.3 301.1 L404.7 301.1 L406.6 302.3 L408.8 302.8 L410.1 301.5 L411.8 300.7 L413.4 300.0"/>
<path d="M397.5 310.3 L396.9 312.5 L396.2 314.7 L395.6 316.9 L393.9 318.3 L393.0 320.3 L391.6 321.9 L390.0 323.4 L391.8 324.8 L393.8 325.7 L395.7 326.8 L397.5 328.1 L395.7 329.6 L393.9 331.0 L392.1 332.6 L389.9 333.5 L388.1 335.0 L385.8 335.7 L383.9 337.0 L381.9 338.2 L380.0 339.4"/>
<path d="M421.9 304.7 L423.5 306.3 L425.9 306.7 L427.2 308.7 L429.4 309.4 L431.7 309.8 L433.9 310.8 L436.0 312.1 L438.4 312.2 L440.6 313.1 L440.3 315.6 L440.4 318.1 L439.7 320.6 L440.4 322.8 L441.6 324.7 L443.6 326.0 L444.4 328.1 L444.0 330.5 L442.8 332.5 L441.9 334.7 L444.3 334.5 L446.8 334.7 L449.2 334.0 L451.7 334.1 L454.1 333.8 L456.0 332.5 L458.2 331.6 L460.2 330.5 L462.5 330.0 L461.3 328.1 L460.1 326.2 L458.8 324.4 L459.2 321.9 L459.9 319.5 L459.7 316.9 L462.3 316.9 L464.9 317.2 L467.4 317.5 L470.0 317.8 L472.1 319.2 L474.6 319.5 L476.9 320.4 L479.1 321.5 L481.3 322.5 L481.2 325.0 L481.9 327.5 L482.1 330.0 L481.6 332.5 L482.0 335.0 L482.2 337.5 L482.3 339.6 L483.2 341.6 L483.2 343.8 L483.1 345.9"/>
<path d="M284.1 274.7 L283.7 276.8 L283.4 279.0 L282.2 280.9 L282.2 283.1 L283.4 285.0 L285.0 286.6 L285.5 288.9 L286.9 290.6 L287.8 292.8 L288.0 295.1 L288.5 297.3 L288.3 299.7 L288.8 301.9 L287.5 304.1 L286.8 306.5 L286.3 309.1 L285.0 311.3 L285.1 313.7 L285.5 316.0 L286.6 318.2 L286.9 320.6 L284.5 321.4 L281.9 321.5 L279.3 321.6 L276.8 322.2 L274.3 322.8 L271.9 323.8 L269.5 324.5 L267.5 325.9 L265.1 326.4 L262.9 327.6 L260.6 328.4 L258.3 329.5 L256.1 330.8 L254.0 332.4 L251.3 332.8 L249.5 335.0 L247.1 335.9 L244.7 336.9 L246.7 337.6 L248.2 339.3 L250.5 339.3 L252.2 340.6 L254.3 340.9 L256.3 341.6 L258.5 341.5 L260.6 341.6 L259.5 343.8 L259.5 346.3 L258.8 348.6 L258.3 351.0 L257.7 353.3 L256.9 355.6 L257.5 357.8 L258.3 359.9 L257.7 362.3 L258.5 364.5 L259.0 366.6 L259.7 368.8 L259.8 371.2 L260.3 373.6 L260.4 376.0 L259.7 378.4 L260.0 380.8 L260.5 383.2 L260.6 385.6 L261.1 388.0 L261.7 390.4 L263.6 392.3 L264.0 394.7 L264.8 397.0 L265.7 399.3 L266.3 401.6"/>
<path d="M193.1 240.0 L195.5 240.9 L197.7 242.0 L200.2 242.7 L202.5 243.8 L204.8 243.7 L206.7 242.0 L209.2 242.5 L211.3 241.5 L213.5 241.0 L215.6 240.0"/>
<path d="M395.6 323.8 L393.7 323.3 L391.8 322.8 L390.0 321.9 L391.1 323.6 L392.8 324.7 L394.2 326.1 L395.6 327.5 L393.7 329.0 L392.0 330.8 L389.9 332.1 L387.8 333.4 L386.6 335.7 L384.4 336.9 L382.3 338.1 L380.5 339.6 L378.2 340.5 L376.2 341.8 L374.5 343.6 L372.2 344.4 L373.3 346.4 L373.6 348.6 L373.9 350.8 L375.0 352.8 L376.4 354.3 L378.1 355.5 L380.2 356.0 L381.6 357.5 L380.8 359.5 L379.6 361.2 L378.9 363.2 L378.1 365.2 L376.9 366.9 L374.3 367.0 L371.9 368.0 L369.4 368.8 L367.0 369.2 L364.6 369.3 L362.1 369.3 L359.7 369.5 L357.3 369.8 L354.9 370.5 L352.5 370.6 L352.8 368.6 L352.2 366.8 L351.6 365.0 L351.4 367.2 L351.1 369.4 L350.3 371.6 L350.0 373.8 L348.8 375.8 L348.8 378.1 L347.5 379.9 L345.2 380.4 L343.9 382.4 L341.8 383.1 L340.3 384.7 L341.3 386.5 L342.6 388.3 L342.6 390.6 L344.1 392.2 L345.0 394.1 L346.8 395.9 L349.2 396.5 L351.3 397.7 L353.2 399.4 L355.3 400.6 L356.3 402.7 L356.5 405.0 L357.2 407.2 L355.6 408.6 L354.2 410.2 L353.3 412.3 L351.3 413.3 L350.0 415.0 L348.8 417.0 L347.2 418.8 L345.5 420.4 L344.4 422.5 L343.1 424.2 L342.9 426.5 L342.0 428.4 L340.4 429.9 L339.7 431.9"/>
</g>
<g fill="none" stroke="#1212F0" stroke-width="1.15" stroke-linejoin="round" stroke-linecap="round">
<path d="M169.7 165.0 L171.9 165.2 L173.9 166.0 L176.0 166.5 L176.7 169.0 L177.1 171.5 L177.8 174.0 L175.9 174.0 L174.1 174.8 L172.2 174.5 L171.1 172.8 L171.4 170.7 L170.5 169.0"/>
<path d="M35.6 140.6 L37.4 141.7 L39.1 143.0 L40.5 144.6 L42.0 146.0 L44.3 147.0 L46.5 148.3 L48.4 150.0 L49.6 151.8 L50.1 154.0 L51.6 155.6 L51.5 157.9 L51.7 160.1 L52.4 162.4 L52.3 164.6 L52.5 166.9 L51.5 169.2 L50.4 171.4 L49.2 173.5 L47.9 175.6 L46.0 177.4 L44.9 179.6 L44.0 181.9 L41.7 182.1 L39.4 182.6 L37.3 183.8 L35.0 184.2 L32.6 184.4 L30.3 184.8 L28.1 185.6 L26.0 186.4 L24.2 187.5 L22.8 189.4 L20.6 190.1 L18.8 191.3"/>
<path d="M88.1 219.4 L90.3 218.6 L92.4 217.8 L94.6 216.9 L96.7 216.1 L98.8 215.0 L101.0 214.2 L102.7 212.4 L105.0 211.9 L106.5 210.3 L108.5 209.1 L109.8 207.3 L111.6 205.9 L112.5 203.8 L114.4 202.5 L116.6 201.2 L118.6 199.8 L121.0 198.8 L123.2 197.6 L125.1 195.8 L127.5 195.0 L128.8 192.9 L130.3 191.1 L132.4 189.6 L133.7 187.7 L135.0 185.6 L136.7 183.9 L138.9 183.1 L140.4 181.1 L142.5 180.0 L145.0 179.5 L147.4 178.3 L150.0 178.1 L150.2 175.8 L151.8 174.0 L151.8 171.7 L152.8 169.7 L154.8 168.7 L157.2 168.8 L159.3 168.0 L161.3 166.9 L163.2 167.5 L165.0 168.5 L166.9 167.4 L168.2 165.6 L169.7 164.1 L170.1 166.3 L171.3 168.3 L171.6 170.6"/>
<path d="M117.2 245.0 L118.2 242.9 L118.9 240.8 L119.3 238.5 L120.0 236.3 L121.7 234.5 L123.4 232.7 L125.8 231.7 L127.5 230.0 L129.6 228.7 L131.3 226.9 L133.1 225.2 L135.2 224.0 L136.7 222.0 L139.0 220.9 L140.8 219.3 L142.5 217.5 L144.3 216.2 L146.3 215.0 L148.3 213.9 L149.8 212.2 L151.9 211.3 L153.8 210.0 L155.2 208.3 L155.8 206.1 L157.4 204.5 L158.5 202.6 L159.4 200.6 L161.2 199.7 L162.4 198.0 L164.1 196.9 L162.8 195.2 L162.5 193.0 L161.6 191.1 L160.3 189.4 L159.4 187.5 L160.6 185.7 L162.2 184.3 L164.0 183.1 L165.2 181.3 L166.9 180.0 L168.3 178.3 L168.8 176.3 L169.4 174.2 L170.6 172.5"/>
<path d="M170.6 172.5 L170.0 170.4 L169.5 168.2 L169.5 166.0 L171.7 166.5 L174.1 166.1 L176.3 166.9 L176.9 169.4 L177.6 171.9 L178.1 174.4 L180.5 175.1 L182.5 176.7 L184.7 177.8 L187.0 176.4 L189.6 176.0 L191.9 174.7 L194.3 173.9 L196.9 173.4 L199.2 172.9 L201.6 172.5 L202.2 174.1 L203.4 175.3 L205.4 174.4 L207.6 174.1 L209.8 174.0 L211.9 173.4 L213.7 172.1 L214.8 170.2 L216.0 168.5 L217.5 166.9 L219.6 168.0 L222.0 167.7 L224.1 168.8 L225.6 167.5 L226.4 165.5 L227.8 164.1 L229.6 165.4 L231.2 166.9 L232.5 168.8 L233.4 166.9 L232.6 165.1 L232.5 163.1 L231.6 161.3 L230.6 159.0 L230.3 156.6 L231.4 155.1 L232.5 153.6 L233.4 151.9 L235.7 151.5 L238.1 151.5 L240.4 150.7 L242.8 150.9 L244.6 150.1 L246.5 150.0 L248.4 150.0 L248.2 151.9 L248.4 153.8 L250.1 154.9 L251.8 155.9 L253.3 157.3 L255.0 158.4 L256.9 159.1 L258.8 159.6 L260.5 160.9 L262.5 161.3 L263.2 162.9 L264.6 164.2 L265.3 165.9 L264.9 168.1 L264.7 170.3 L264.4 172.5 L265.0 175.0 L266.3 177.2 L268.0 179.0 L270.0 180.5"/>
<path d="M239.1 98.0 L239.4 99.7 L239.1 101.3 L240.3 103.5 L242.5 104.8 L243.8 106.9 L243.9 108.8 L244.9 110.6 L244.7 112.5 L246.4 113.6 L247.5 115.5 L249.4 116.3 L249.4 118.2 L248.6 120.0 L248.4 121.9 L250.3 123.1 L252.2 124.3 L254.1 125.6 L256.3 126.1 L258.5 126.3 L260.6 127.1 L259.3 128.6 L259.1 130.7 L257.8 132.2 L256.1 133.7 L254.4 135.1 L252.2 135.9 L252.0 138.1 L251.3 140.2 L250.3 142.2 L250.3 144.4 L249.8 146.3 L249.4 148.3 L248.4 150.0"/>
<path d="M217.5 166.9 L216.8 169.2 L216.2 171.6 L215.8 174.0 L214.3 176.1 L214.5 178.7 L213.3 180.9 L212.2 183.1 L211.9 185.6 L213.3 187.6 L213.7 189.9 L214.6 192.1 L216.1 194.0 L216.7 196.3 L217.3 198.5 L218.4 200.6 L217.5 202.5 L216.3 204.3 L216.0 206.4 L215.0 208.2 L213.8 210.0 L212.2 211.6 L210.0 212.5 L207.9 213.4 L206.2 214.9 L204.2 216.0 L202.5 217.5 L200.4 218.9 L198.0 219.8 L196.2 221.6 L193.9 222.7 L191.5 223.6 L189.4 225.0 L188.5 227.4 L188.2 230.0 L187.5 232.5 L187.2 234.5 L186.3 236.3 L185.7 238.2 L184.7 240.0 L184.0 242.0 L182.5 243.6 L181.9 245.6 L180.7 247.9 L178.6 249.5 L177.1 251.5 L176.3 254.1 L174.4 255.9 L172.2 256.6 L169.9 257.1 L167.8 258.1 L165.4 258.3 L163.1 258.8 L160.8 259.0 L158.8 260.4 L156.5 260.5 L154.5 261.7 L152.2 261.8 L150.0 262.5 L147.9 263.2 L146.4 264.9 L144.6 266.2 L142.7 267.1 L140.6 267.8"/>
<path d="M174.4 255.9 L176.2 256.9 L178.2 257.7 L180.0 258.8 L182.1 259.4 L183.8 260.6 L185.6 262.1 L187.6 263.4 L189.8 264.5 L192.1 265.3 L193.9 266.9 L195.9 268.1 L194.9 270.1 L193.8 272.0 L192.0 273.5 L191.3 275.6 L189.6 277.0 L189.2 279.4 L187.5 280.9"/>
<path d="M266.3 177.2 L268.2 178.4 L270.0 179.7 L271.9 180.9 L270.1 182.5 L269.0 184.7 L267.7 186.4 L266.4 188.1 L265.0 189.7 L264.1 191.6 L262.5 193.1 L261.2 195.3 L259.9 197.4 L258.5 199.5 L257.9 202.1 L256.4 204.2 L255.0 206.3 L254.0 208.7 L251.9 210.5 L250.6 212.7 L249.8 215.3 L247.6 216.9 L246.6 219.4 L246.4 221.3 L247.0 223.2 L247.5 225.0 L245.5 226.3 L244.0 228.1 L242.2 229.6 L240.0 230.6 L239.0 232.9 L238.6 235.5 L237.5 237.8 L236.3 240.0 L234.6 241.9 L232.9 243.7 L230.7 245.0 L228.8 246.6 L226.5 247.6 L224.0 248.1 L221.7 249.4 L219.4 250.3 L217.6 252.1 L216.1 254.1 L214.3 255.8 L212.8 257.8 L213.3 259.9 L214.0 262.0 L213.7 264.3 L214.7 266.3 L215.8 268.3 L217.4 269.9 L219.0 271.5 L220.9 272.9 L222.2 274.7"/>
<path d="M265.3 165.9 L267.0 167.1 L268.5 168.4 L270.1 169.6 L271.9 170.6 L274.0 171.4 L275.9 172.5 L277.6 174.0 L279.4 175.3 L282.0 175.7 L284.3 176.9 L286.9 177.2 L289.2 178.1 L291.6 178.7 L293.9 179.4 L296.3 180.0 L297.3 182.0 L298.9 183.5 L299.8 185.6 L300.9 187.5 L301.4 189.7 L300.8 191.9 L301.9 194.0 L301.2 196.3 L302.2 198.4 L301.9 200.6 L300.2 202.4 L299.0 204.5 L297.5 206.3 L295.6 207.9 L294.4 210.0 L294.5 212.3 L294.1 214.6 L292.8 216.7 L292.9 219.0 L292.5 221.3 L293.6 223.5 L293.4 226.1 L294.1 228.4 L295.3 230.6 L294.1 232.7 L292.4 234.4 L291.1 236.5 L289.5 238.2 L287.8 240.0 L286.9 242.2 L286.7 244.6 L285.4 246.7 L285.3 249.2 L284.1 251.3 L282.6 253.1 L280.5 254.0 L279.1 255.9 L277.4 257.4 L275.6 258.8 L273.3 259.8 L271.1 261.1 L268.9 262.3 L266.9 263.7 L264.4 264.4 L262.8 266.1 L261.6 268.1"/>
<path d="M117.2 240.0 L117.7 242.3 L117.4 244.7 L117.7 247.1 L118.1 249.4 L118.9 251.5 L120.7 253.0 L121.8 254.9 L123.0 256.7 L123.8 258.8 L125.7 260.5 L126.9 262.7 L129.0 264.2 L130.3 266.3 L129.8 268.6 L129.7 271.0 L129.1 273.3 L128.5 275.6 L127.6 277.9 L127.5 280.3"/>
<path d="M371.3 245.0 L372.9 243.5 L375.2 242.9 L377.0 241.7 L379.0 240.8 L380.5 239.0 L382.5 238.1 L384.5 236.7 L386.8 236.0 L388.9 234.8 L390.8 233.3 L393.2 232.5 L395.1 231.0 L397.4 230.2 L399.4 228.8 L401.0 227.0 L403.0 225.7 L405.3 224.9 L406.9 223.1 L408.8 223.9 L410.8 224.7 L412.5 225.9 L413.5 227.4 L414.9 228.5 L416.3 229.7 L418.4 228.4 L420.8 227.9 L423.1 227.0 L425.1 225.6 L427.5 225.0 L429.0 223.0 L430.0 220.6 L431.6 218.6 L433.1 216.6"/>
<path d="M359.0 249.4 L361.3 249.2 L363.1 247.5 L365.5 247.5 L367.5 246.6 L369.3 245.5 L371.3 245.0"/>
<path d="M433.1 216.6 L433.7 218.9 L434.1 221.2 L434.7 223.5 L435.2 225.8 L435.6 228.1 L435.3 230.4 L434.7 232.6 L434.8 234.9 L434.0 237.1 L433.8 239.4 L433.4 241.6 L432.2 243.5 L431.3 245.5 L430.6 247.6 L429.4 249.4 L427.3 250.8 L425.8 252.8 L423.6 254.0 L421.9 255.9 L419.4 256.1 L417.3 257.6 L414.7 257.7 L412.5 258.8 L410.1 259.8 L407.9 261.2 L406.0 263.1 L403.6 264.0 L401.3 265.3 L399.0 266.3 L397.0 267.7 L394.8 268.9 L392.6 269.9 L390.4 271.0 L388.1 271.9 L385.9 272.6 L384.0 273.9 L382.0 274.8 L379.8 275.5 L377.8 276.6 L375.5 276.7 L373.5 278.0 L371.3 278.4 L369.1 279.8 L366.4 279.8 L364.1 280.9 L361.9 282.2 L359.3 282.5 L356.9 283.4 L354.5 284.3 L352.0 285.0 L349.5 285.5 L346.9 285.9 L344.7 286.7 L342.7 287.9 L340.3 288.0 L338.1 288.8 L336.2 290.3 L333.8 290.6 L331.5 290.6 L329.3 291.4 L326.9 291.3 L324.8 292.1 L322.5 292.5 L321.3 291.3 L319.7 290.6 L318.2 291.9 L316.5 293.0 L315.0 294.4 L312.5 295.0 L310.1 296.2 L307.5 296.3 L304.9 296.4 L302.5 295.9 L300.0 295.3 L297.4 295.4 L294.9 295.4 L292.3 295.3 L289.7 295.3 L287.7 296.3 L286.0 297.7 L284.2 299.0 L282.2 300.0 L280.5 301.3 L278.5 302.2 L277.0 303.7 L275.4 305.1 L273.8 306.6 L271.7 305.5 L269.2 305.4 L266.9 304.7 L264.6 304.0 L262.5 302.8 L260.8 304.3 L259.0 305.6 L256.8 306.2 L255.0 307.5 L253.2 308.7 L252.3 310.8 L250.4 311.9 L248.7 313.2 L247.5 315.0 L245.2 316.0 L243.3 317.8 L240.9 318.6 L238.9 320.2 L236.8 321.6 L234.4 322.5 L232.1 323.6 L229.5 323.6 L227.0 323.7 L224.7 325.2 L222.2 325.3"/>
<path d="M421.9 255.9 L422.4 258.0 L422.5 260.2 L422.8 262.4 L423.8 264.4 L422.9 266.4 L421.3 268.0 L420.2 269.9 L419.1 271.8 L418.1 273.8 L419.4 275.5 L420.4 277.3 L421.0 279.3 L421.6 281.4 L422.8 283.1 L422.0 285.1 L420.6 286.9 L419.7 288.9 L418.1 290.4 L417.0 292.3 L416.3 294.4 L415.9 296.3 L414.7 298.0 L414.7 300.0 L415.2 302.5 L414.4 305.0 L414.7 307.5 L412.8 308.6 L411.6 310.6 L409.6 311.5 L408.1 313.1 L406.2 314.2 L404.1 315.0 L402.7 316.8 L400.6 317.6 L398.8 318.8 L396.9 320.4 L395.5 322.4 L394.1 324.4 L395.8 325.4 L397.6 326.4 L398.7 328.3 L400.6 329.1 L402.1 330.8 L403.2 332.8 L405.4 333.9 L406.3 336.0 L408.1 337.5 L409.3 339.6 L410.7 341.5 L413.0 342.8 L414.2 344.9 L415.6 346.9 L417.7 347.6 L419.2 349.4 L421.3 350.1 L422.9 351.8 L425.0 352.5 L427.4 353.3 L429.6 354.7 L431.9 355.7 L434.4 356.3 L435.0 358.4 L434.9 360.6 L435.3 362.8 L433.0 363.7 L431.2 365.4 L429.2 366.9 L427.2 368.3 L425.0 369.4 L422.8 370.2 L421.1 371.9 L418.8 372.5 L416.8 373.7 L414.8 374.8 L412.8 375.9 L413.8 378.3 L413.9 380.9 L414.7 383.4 L413.2 384.8 L412.5 386.8 L411.3 388.5 L410.0 390.0 L408.9 391.5 L408.7 393.3 L408.1 395.0 L409.0 397.2 L409.9 399.5 L410.0 401.9 L408.5 403.3 L407.7 405.1 L406.3 406.6 L403.9 406.1 L401.6 405.6"/>
<path d="M435.3 362.8 L437.6 362.1 L440.0 362.3 L442.3 361.7 L444.7 361.2 L447.0 361.2 L449.4 360.9 L451.6 360.1 L453.8 359.3 L455.9 358.6 L458.0 357.6 L460.2 356.8 L462.5 356.3 L464.9 355.3 L466.9 353.8 L469.4 353.1 L471.7 352.0 L473.8 350.6 L476.2 349.7 L478.4 348.6 L480.3 346.9"/>
<path d="M322.5 292.5 L322.9 294.8 L323.3 297.1 L324.2 299.3 L324.7 301.5 L325.3 303.8 L325.1 306.0 L324.1 308.1 L324.6 310.4 L324.4 312.6 L324.0 314.8 L323.4 316.9 L324.4 319.1 L325.1 321.3 L325.9 323.5 L326.8 325.7 L327.2 328.1 L328.1 329.4 L328.8 331.7 L329.3 334.1 L329.5 336.5 L330.0 338.8 L329.0 340.3 L327.9 341.6 L326.3 342.5 L324.6 343.7 L322.5 344.4 L320.7 345.5 L318.8 346.3 L318.4 348.9 L318.3 351.4 L318.6 354.0 L318.4 356.6"/>
<path d="M329.0 340.5 L330.9 342.3 L333.1 343.6 L335.2 345.1 L337.5 346.3 L339.1 348.0 L341.4 348.7 L343.1 350.3 L344.8 351.9 L346.9 352.8 L349.1 354.1 L351.6 354.8 L354.1 355.3 L356.3 356.6 L358.5 357.9 L360.2 359.9 L362.8 360.4 L364.7 362.2 L366.7 363.6 L368.1 365.7 L370.3 366.9 L369.4 368.8 L368.4 370.6 L367.0 372.3 L365.3 373.6 L363.2 374.5 L361.9 376.3 L361.6 378.7 L361.0 381.0 L360.3 383.2 L360.0 385.6 L360.9 387.9 L362.4 389.8 L363.9 391.8 L364.7 394.1 L366.3 395.5 L368.4 396.3 L370.0 397.6 L371.6 399.0 L373.1 400.6 L374.8 402.4 L377.0 403.7 L378.6 405.7 L380.6 407.2 L383.0 407.6 L385.3 408.3 L387.5 409.4"/>
<path d="M326.6 417.8 L328.6 417.3 L329.8 419.5 L331.5 419.9 L333.3 420.0 L335.0 420.6 L337.1 421.2 L337.3 424.0 L338.8 425.3 L341.0 425.9 L342.5 427.2 L344.0 428.5 L346.1 429.2 L348.1 429.9 L348.8 432.2 L350.0 433.8 L351.7 435.0 L354.4 434.3 L355.2 437.5 L357.5 437.5 L358.5 435.8 L360.0 434.8 L361.2 433.4 L364.4 435.2 L365.0 432.8 L366.9 433.6 L368.8 434.1 L370.6 433.2 L372.5 432.8 L374.6 434.0 L374.2 436.0 L374.2 437.9 L376.0 439.2 L375.3 441.3 L375.9 443.7 L378.7 443.4 L380.0 445.0 L381.2 446.9 L378.9 448.8 L381.3 450.6 L380.0 452.5 L381.6 454.0 L383.3 452.3 L385.0 452.7 L386.6 452.5 L386.5 450.7 L387.4 449.2 L386.9 447.3 L388.4 445.9 L390.3 444.7 L391.3 447.8 L393.1 446.9 L394.4 448.6 L393.1 450.9 L395.5 452.3 L395.0 454.4 L396.4 456.5 L398.3 456.9 L400.6 456.3 L402.6 456.4 L404.3 455.7 L405.7 454.4 L407.2 453.4 L409.0 454.7 L411.7 453.3 L413.4 455.1 L415.1 456.8 L417.5 456.3 L419.7 456.0 L420.7 459.0 L422.7 459.6 L425.0 459.1 L426.8 459.8 L428.6 460.6 L430.1 461.8 L431.9 462.5 L433.4 463.8 L436.1 463.9 L436.6 461.0 L437.7 458.7 L439.5 457.7 L442.5 458.2 L443.8 456.3 L445.7 457.9 L447.5 456.2 L449.4 456.1 L451.3 456.2 L453.2 456.8 L455.0 455.9 L456.1 457.4 L455.4 459.1"/>
</g>
</g>
<path d="M10.3 153.8 L12.5 152.4 L14.7 151.1 L17.3 150.3 L19.3 148.6 L21.8 147.8 L24.0 146.5 L26.2 145.0 L28.7 144.2 L30.8 142.5 L33.3 141.7 L35.6 140.6 L37.4 138.9 L39.5 137.6 L41.8 136.6 L44.1 135.7 L45.7 133.7 L47.9 132.5 L50.2 131.5 L52.4 130.5 L54.3 128.9 L56.3 127.5 L58.4 126.0 L60.9 125.1 L62.5 122.8 L65.2 122.2 L67.0 120.2 L69.1 118.7 L71.2 117.2 L73.5 116.0 L75.9 115.1 L77.7 113.1 L80.1 112.0 L82.3 110.6 L84.4 109.1 L86.5 108.1 L88.8 107.5 L90.8 106.2 L93.0 105.3 L95.2 104.6 L97.5 104.1 L97.2 102.3 L96.4 100.7 L96.0 99.0 L98.2 98.6 L100.5 98.7 L102.8 98.4 L103.2 100.0 L103.5 101.6 L105.9 100.8 L108.4 100.7 L110.8 100.1 L113.1 99.0 L115.6 98.7 L118.0 98.1 L120.5 97.9 L122.8 96.9 L122.9 98.7 L123.7 100.4 L123.8 102.2 L122.7 104.3 L122.9 106.7 L121.9 108.8 L122.7 110.6 L123.0 112.6 L124.4 114.3 L124.7 116.3 L126.4 118.2 L128.4 119.7 L129.5 122.0 L131.3 123.8 L133.6 124.0 L135.8 123.7 L138.0 124.0 L140.3 123.3 L142.5 123.4 L142.9 121.3 L143.1 119.1 L143.3 117.0 L143.4 114.8 L145.5 113.7 L147.8 113.0 L150.0 112.1 L151.9 110.6 L153.8 111.5 L155.6 112.7 L157.7 113.0 L159.4 114.4 L161.7 115.3 L164.0 116.0 L166.3 117.0 L168.6 117.5 L171.2 117.7 L173.5 118.5 L175.7 119.5 L178.1 120.0 L179.0 122.2 L178.9 124.5 L179.6 126.7 L180.0 129.0 L180.0 131.3 L182.3 130.6 L184.7 131.1 L187.0 130.1 L189.4 130.3 L190.6 131.8 L191.3 133.5 L193.3 132.6 L195.6 132.2 L197.3 130.6 L199.5 130.2 L201.6 129.4 L203.7 128.3 L205.9 127.5 L207.9 126.3 L210.0 125.3 L211.9 123.8 L214.0 122.3 L216.2 121.2 L218.4 119.9 L220.8 119.2 L223.1 118.0 L225.0 116.3 L226.3 114.3 L228.0 112.6 L229.6 110.9 L231.2 109.1 L233.1 107.6 L234.8 105.9 L236.3 104.1 L236.3 101.9 L236.4 99.6 L237.2 97.5 L238.6 96.8 L240.0 96.2 L242.3 95.9 L244.5 96.0 L246.8 96.3 L249.1 95.9 L251.3 95.6 L252.2 97.7 L253.1 99.8 L255.7 99.8 L258.3 99.8 L260.8 99.0 L263.4 99.4 L264.3 97.6 L264.4 95.6 L263.2 93.5 L261.9 91.6 L260.5 89.8 L258.8 88.1 L258.4 86.2 L258.2 84.2 L257.6 82.3 L257.8 80.3 L259.9 79.5 L261.7 77.9 L263.8 76.9 L265.9 76.1 L268.1 75.4 L270.4 74.7 L272.8 74.5 L275.0 73.8 L277.4 73.3 L279.8 73.5 L279.9 75.7 L279.7 77.9 L279.1 80.1 L279.2 82.3 L278.4 84.4 L280.9 84.7 L283.4 84.3 L285.9 84.0 L288.3 84.1 L290.7 84.7 L293.0 85.3 L295.3 85.9 L296.1 83.8 L296.8 81.6 L298.1 79.7 L300.1 78.2 L301.9 76.5 L303.2 74.3 L305.0 72.6 L306.4 70.5 L308.4 69.0 L310.6 68.6 L312.8 68.8 L315.0 69.0 L316.8 70.8 L317.8 73.2 L319.7 75.0 L319.6 77.4 L319.3 79.8 L317.8 82.0 L317.8 84.4 L315.3 84.4 L312.8 84.8 L310.3 84.4 L310.3 86.1 L310.3 87.8 L312.9 87.6 L315.4 88.5 L318.0 89.3 L320.6 89.1 L322.6 88.8 L324.5 88.0 L326.3 87.2 L327.7 88.6 L328.9 90.2 L330.0 91.9 L331.4 90.0 L333.4 88.9 L334.9 87.1 L336.7 85.7 L337.9 83.7 L339.5 82.0 L341.3 80.6 L341.9 78.5 L342.4 76.3 L342.2 74.1 L343.8 73.5 L345.0 72.2 L347.0 73.7 L349.2 75.0 L351.6 75.9 L352.2 78.1 L353.5 80.0 L354.0 82.3 L354.8 84.4 L353.9 86.6 L353.2 88.8 L352.1 90.9 L350.6 92.8 L352.3 94.5 L353.8 96.4 L354.9 98.6 L356.2 100.6 L358.1 102.2 L358.8 104.5 L358.9 106.9 L360.0 109.1 L362.4 109.5 L364.7 109.2 L367.0 108.4 L369.4 108.4 L371.5 109.8 L373.1 111.6 L373.4 113.6 L373.4 115.6 L373.4 117.6 L373.1 119.6 L375.4 119.7 L377.6 120.0 L379.9 120.0 L382.1 119.6 L384.4 119.6 L386.3 118.5 L388.1 117.2 L390.2 118.0 L392.4 117.7 L394.4 118.8 L396.6 119.1 L398.7 118.0 L400.5 116.3 L402.4 114.8 L404.0 113.1 L405.9 111.6 L408.3 111.7 L410.6 112.5 L411.8 114.6 L413.6 116.1 L414.6 118.3 L416.3 120.0 L416.0 122.0 L416.9 123.9 L417.1 125.9 L417.2 127.9 L419.0 129.3 L421.1 130.1 L423.4 130.5 L425.4 131.5 L427.5 132.5 L429.3 133.8 L430.8 135.0 L432.6 135.4 L435.1 135.5 L437.4 134.6 L439.9 135.2 L442.3 134.6 L443.3 136.9 L445.1 138.6 L446.7 140.4 L448.9 140.0 L451.0 140.1 L453.2 139.8 L454.5 141.3 L455.7 142.9 L456.2 144.8 L454.5 145.6 L453.4 147.1 L452.1 148.4 L452.6 150.1 L453.2 151.7 L451.2 153.0 L449.9 155.0 L449.6 156.8 L448.8 158.5 L448.8 160.4 L446.9 161.7 L445.6 163.6 L446.5 165.7 L446.7 168.0 L445.2 169.8 L443.4 171.2 L444.0 173.0 L444.4 174.8 L444.5 176.7 L443.3 178.3 L442.5 180.1 L441.3 181.6 L440.1 183.2 L442.0 184.2 L443.4 185.8 L441.4 187.5 L440.1 189.7 L439.2 191.6 L438.0 193.3 L436.9 195.1 L435.7 196.5 L434.3 197.7 L433.6 199.4 L432.2 200.9 L430.4 202.0 L429.3 203.8 L428.9 205.6 L428.5 207.4 L428.2 209.2 L429.3 211.0 L430.9 212.5 L431.5 214.6 L433.7 215.6 L435.8 216.8 L436.1 219.3 L436.2 221.8 L435.2 224.3 L435.5 226.8 L437.7 226.0 L440.0 225.9 L442.3 225.5 L444.1 224.0 L445.6 222.2 L446.6 223.7 L447.9 225.0 L448.8 226.6 L450.6 226.3 L452.5 225.9 L454.3 225.5 L455.7 226.9 L457.5 227.7 L458.7 226.3 L460.4 225.6 L461.8 224.4 L463.6 225.9 L465.1 227.7 L467.2 226.7 L469.5 226.5 L471.6 225.5 L474.0 226.3 L476.5 227.2 L478.9 228.2 L481.4 228.7 L481.7 230.7 L482.9 232.4 L483.6 234.3 L485.9 234.4 L488.2 234.3 L490.5 234.2 L492.8 234.2 L494.0 236.5 L495.5 238.6 L496.8 240.9 L498.2 243.0 L499.1 245.5 L500.7 247.6 L502.2 249.7 L502.2 252.1 L503.1 254.4 L505.3 255.0 L507.6 254.3 L509.9 254.7 L512.1 255.2 L514.4 254.8 L513.1 256.4 L512.9 258.5 L511.9 260.3 L510.6 261.9 L509.0 263.6 L507.6 265.6 L505.8 267.1 L504.2 269.0 L502.2 270.3 L502.7 272.2 L503.2 274.1 L504.1 275.9 L505.3 278.1 L507.5 279.5 L508.8 281.6 L511.0 282.0 L513.2 282.1 L515.4 281.7 L517.5 282.6 L519.7 282.9 L521.9 282.5 L523.4 283.9 L524.0 285.9 L525.6 287.2 L527.0 288.6 L528.3 290.1 L529.7 291.6 L528.9 294.1 L528.9 296.7 L529.4 299.4 L528.8 301.9 L528.0 303.8 L527.1 305.6 L526.3 307.5 L528.1 309.1 L529.9 310.6 L531.5 312.4 L532.8 314.4 L534.7 315.9 L533.5 318.1 L531.5 319.7 L530.0 321.6 L527.6 321.7 L525.3 322.1 L523.0 321.8 L520.6 321.6 L520.0 323.7 L519.7 325.8 L519.7 328.0 L518.8 330.0 L516.3 330.6 L514.1 332.0 L511.8 332.9 L510.0 334.9 L507.5 335.6 L506.1 337.3 L504.7 339.1 L502.8 340.3 L503.2 342.7 L504.4 344.9 L505.3 347.2 L505.6 349.7 L503.8 350.4 L501.7 350.5 L500.0 351.6 L500.0 354.1 L500.9 356.6 L500.9 359.1 L499.1 360.2 L497.0 360.5 L496.9 358.3 L495.9 356.4 L495.3 354.4 L493.2 354.4 L491.1 355.3 L489.1 355.6 L486.9 355.3 L485.5 353.6 L483.7 352.2 L482.2 350.6 L480.1 351.7 L477.7 351.4 L475.6 352.5 L475.0 354.6 L474.4 356.6 L474.7 358.9 L473.8 360.9 L471.7 361.7 L470.3 363.7 L468.0 364.1 L466.3 365.6 L465.4 367.9 L464.6 370.2 L463.4 372.4 L462.1 374.5 L461.6 376.9 L461.5 379.4 L461.3 382.0 L460.6 384.4 L458.7 385.7 L456.9 387.0 L457.5 388.8 L457.9 390.6 L457.8 392.5 L456.4 394.2 L454.9 395.7 L453.1 396.9 L451.3 398.1 L450.5 400.1 L449.6 401.9 L448.2 403.6 L447.5 405.6 L447.1 407.9 L446.2 410.0 L445.6 412.2 L447.4 413.2 L448.8 414.5 L450.3 415.9 L449.6 418.1 L448.2 419.8 L447.2 421.8 L445.6 423.4 L445.8 425.8 L446.4 428.2 L447.3 430.5 L447.4 432.9 L449.4 433.4 L451.3 434.5 L453.4 434.6 L454.7 436.4 L454.8 438.7 L456.1 440.6 L456.9 442.6 L457.4 444.7 L458.6 446.6 L460.3 446.9 L462.0 447.5 L463.4 448.6 L464.7 449.9 L466.3 450.9 L465.2 452.7 L465.2 454.9 L464.1 456.6 L463.8 458.7 L465.4 459.8 L467.1 460.6 L468.9 461.3 L468.7 463.3 L468.5 465.3 L468.0 467.3 L466.8 469.1 L465.3 470.6 L463.8 472.1 L462.0 473.3 L462.6 475.4 L464.0 477.2 L464.6 479.3 L463.4 481.3 L461.9 483.0 L459.8 484.2 L458.6 486.2 L456.6 485.2 L454.4 484.7 L452.1 484.5 L450.0 483.6 L449.1 485.2 L447.9 486.6 L446.6 487.9 L444.5 487.6 L442.4 487.6 L440.4 486.9 L438.3 486.8 L436.3 486.2 L434.0 487.2 L431.9 488.6 L430.2 490.5 L429.6 492.2 L429.3 494.0 L428.5 495.6 L426.8 494.0 L424.4 493.5 L422.5 492.2 L420.4 493.0 L418.4 494.0 L416.1 494.3 L413.9 494.8 L412.2 496.0 L410.5 497.1 L408.8 498.2 L407.4 496.7 L406.5 494.7 L405.3 493.0 L405.0 490.8 L405.5 488.7 L405.5 486.6 L406.2 484.5 L404.9 482.7 L403.4 481.0 L402.2 479.1 L401.2 477.0 L400.2 475.0 L397.9 474.0 L395.9 472.3 L393.8 471.1 L391.6 469.8 L389.5 470.4 L387.5 471.4 L385.5 472.4 L386.6 470.6 L387.6 468.7 L388.0 466.6 L389.0 464.7 L387.1 463.1 L385.9 460.9 L383.6 459.8 L382.3 457.6 L380.4 456.1 L378.1 456.1 L375.8 456.9 L373.5 456.2 L371.2 456.3 L368.9 456.7 L366.6 457.0 L366.5 454.8 L365.8 452.7 L364.1 452.1 L362.3 452.5 L360.6 451.8 L359.6 449.7 L358.6 447.7 L357.9 445.5 L356.8 443.4 L355.5 441.5 L353.3 440.6 L350.9 440.4 L348.7 439.5 L346.3 439.4 L344.9 437.7 L343.3 436.1 L341.6 434.7 L339.4 434.8 L337.3 434.8 L335.2 434.4 L333.1 433.8 L330.8 434.4 L328.5 435.1 L326.1 434.8 L323.8 435.6 L324.2 433.4 L324.5 431.3 L324.7 429.1 L324.1 426.9 L323.5 424.8 L322.6 422.7 L321.9 420.6 L322.6 418.4 L324.5 417.0 L325.7 415.1 L326.6 413.1 L325.7 411.0 L324.8 409.0 L323.9 406.8 L322.4 405.1 L321.9 402.8 L320.2 401.4 L318.0 400.7 L316.0 399.7 L314.4 398.1 L314.0 396.6 L314.1 395.0 L315.4 393.2 L316.1 391.1 L317.7 389.5 L319.0 387.7 L319.7 385.6 L319.5 383.3 L319.1 381.0 L319.0 378.6 L318.8 376.3 L320.5 374.5 L322.1 372.7 L323.4 370.6 L324.7 368.6 L325.9 366.5 L326.5 364.1 L328.1 362.2 L326.4 361.1 L325.3 359.4 L322.7 359.0 L320.4 357.9 L317.8 357.5 L316.2 359.2 L314.3 360.6 L313.0 362.6 L311.3 364.1 L309.4 365.5 L307.5 366.9 L305.7 368.4 L304.0 370.1 L302.3 371.8 L300.9 373.8 L299.1 375.3 L299.7 377.5 L300.3 379.7 L300.9 381.9 L300.5 384.3 L300.4 386.7 L299.1 388.9 L299.1 391.3 L296.9 392.3 L294.4 392.1 L292.1 392.8 L290.1 394.4 L287.7 394.6 L285.3 394.9 L283.1 395.9 L280.9 396.9 L279.4 398.8 L277.6 400.4 L275.6 401.6 L273.4 402.5 L270.8 402.3 L268.7 403.7 L266.3 404.0 L264.1 403.4 L261.7 403.4 L259.5 402.5 L257.4 401.6 L255.0 401.6 L253.0 401.2 L251.4 399.7 L249.4 399.2 L247.5 398.4 L244.9 398.3 L242.5 398.9 L240.0 399.8 L237.4 399.4 L235.0 400.2 L232.5 400.6 L230.0 399.8 L227.8 398.6 L225.9 396.9 L225.3 394.4 L224.6 391.9 L224.1 389.4 L224.5 386.8 L224.9 384.3 L225.9 381.9 L227.9 380.4 L230.0 379.1 L232.3 378.3 L233.9 376.2 L236.3 375.3 L235.8 373.0 L235.1 370.7 L233.6 368.7 L233.7 366.2 L232.5 364.1 L230.2 363.2 L227.9 362.3 L225.4 362.2 L223.1 361.3 L223.9 359.4 L224.9 357.5 L226.4 355.9 L226.9 353.8 L227.0 351.4 L226.7 349.1 L226.8 346.8 L226.9 344.4 L228.9 342.8 L230.8 341.2 L233.0 339.8 L235.3 338.8 L235.7 336.9 L235.1 335.0 L235.3 333.1 L233.3 331.7 L230.9 331.5 L228.8 330.3 L227.7 332.0 L226.3 333.4 L225.0 335.0 L224.0 332.9 L223.5 330.7 L223.4 328.3 L222.2 326.3 L220.6 324.7 L218.7 323.5 L216.6 322.5 L215.1 320.5 L213.6 318.4 L212.0 316.6 L210.0 315.0 L208.1 314.9 L206.3 314.8 L204.4 315.0 L202.4 316.4 L199.9 316.6 L197.9 317.8 L195.6 318.5 L193.4 319.5 L191.3 320.6 L189.3 319.6 L187.3 318.7 L185.9 316.7 L183.8 315.9 L181.5 316.3 L179.1 315.9 L176.8 316.1 L174.4 316.1 L172.0 315.6 L169.7 315.9 L168.3 318.1 L168.0 320.7 L166.7 322.9 L165.9 325.3 L164.5 323.9 L163.5 322.1 L162.2 320.6 L161.3 318.5 L160.3 316.5 L159.5 314.4 L159.0 312.2 L159.5 310.5 L160.9 309.3 L161.3 307.5 L161.0 305.2 L160.4 302.8 L160.8 300.4 L160.6 298.0 L159.7 295.8 L159.4 293.4 L157.6 291.8 L156.1 289.9 L154.5 288.1 L153.3 286.1 L151.9 284.1 L149.4 284.5 L146.9 284.4 L144.4 284.4 L141.9 284.0 L139.4 283.7 L136.9 284.1 L138.1 282.0 L138.7 279.7 L139.7 277.5 L137.2 277.0 L134.7 276.2 L132.2 275.6 L131.9 278.0 L131.3 280.3 L129.1 281.3 L127.0 282.5 L124.6 283.1 L122.1 283.3 L120.0 284.6 L118.0 283.4 L116.5 281.5 L114.9 279.9 L113.3 278.1 L111.1 277.1 L109.4 275.5 L107.8 273.8 L107.4 271.6 L107.4 269.4 L107.3 267.2 L107.7 265.0 L107.4 262.8 L106.9 260.6 L106.3 258.1 L104.5 256.1 L103.6 253.8 L103.1 251.3 L103.7 249.1 L104.3 246.9 L104.2 244.5 L104.7 242.3 L105.0 240.0 L104.1 239.1 L102.1 237.8 L100.7 235.9 L99.5 233.8 L97.5 232.5 L96.7 230.1 L95.6 227.8 L94.6 225.5 L92.8 223.7 L91.9 221.3 L89.9 221.1 L88.0 220.4 L86.3 219.4 L85.0 220.6 L83.6 221.7 L82.5 223.1 L80.7 222.3 L78.8 222.3 L76.9 222.2 L74.6 223.3 L72.4 224.4 L70.3 225.9 L68.2 227.1 L66.1 228.2 L64.2 229.9 L61.9 230.6 L61.1 232.7 L61.2 234.9 L60.0 236.9 L60.0 239.1 L58.1 239.2 L56.3 239.6 L54.5 238.5 L52.7 237.3 L51.2 235.9 L49.7 234.4 L47.9 233.3 L46.0 232.3 L43.9 231.9 L42.2 230.6 L40.3 228.8 L39.2 226.5 L37.8 224.4 L36.1 222.4 L34.7 220.3 L33.8 218.5 L33.5 216.5 L32.8 214.7 L30.3 214.8 L28.1 214.0 L25.7 213.3 L23.4 212.8 L22.3 210.4 L20.5 208.5 L19.2 206.3 L17.3 204.4 L17.5 202.0 L17.6 199.7 L17.8 197.3 L18.4 195.0 L17.9 192.5 L16.5 190.3 L18.4 188.9 L19.8 187.0 L21.6 185.6 L20.4 183.4 L20.2 181.0 L19.7 178.6 L18.8 176.3 L17.2 175.1 L15.5 174.0 L14.1 172.5 L13.9 170.1 L13.9 167.8 L12.8 165.5 L12.2 163.2 L12.2 160.8 L11.9 158.5 L11.8 156.1 L11.3 153.8Z" fill="none" stroke="#222" stroke-width="2" stroke-linejoin="round"/>
<ellipse cx="331.9" cy="82.1" rx="2.8" ry="3.7" fill="#222" transform="rotate(25 331.9 82.1)"/>
<g fill="#0055FF">
<path d="M6.6 5 L19.7 5 C24 8 27 12 28.4 15.8 C29.6 20 29.9 25 29.4 29 C28.8 34 26 39 22.9 44 C21.2 47.5 20.6 50.5 20.5 54.3 L6.6 54.3 Z"/>
<path d="M56 7.6 L56 54.3 L24 54.3 C24.4 51 25.4 49 26.8 47.3 C29 44.5 31 42 32.3 39.4 C35 35.5 37.5 33.5 38.6 31.5 C40 29 40.3 27 40.7 25 C41.2 21 42 18.5 43.4 15.8 C45.5 12.5 48.5 10 54.3 8.5 Z"/>
<text x="4.7" y="70.7" font-size="22.3" font-family="Liberation Sans, sans-serif" textLength="54.2" lengthAdjust="spacingAndGlyphs">KMI</text>
</g>
</g>
<text x="79.5" y="30.7" class="t">Globale zonnestraling</text>
<text x="78.1" y="51.5" class="s">totaal maart 2019</text>
<text x="719.5" y="30.7" class="t">Verhouding tot de normaalwaarde van de globale zonnestraling</text>
<text x="718.1" y="51.5" class="s2">totaal maart 2019 in vergelijking met de maandelijkse normaalwaarde 1984-2013</text>
<text x="581.4" y="74.4" class="u" style="font-size:13px" textLength="51" lengthAdjust="spacingAndGlyphs">kWh/m²</text>
<text x="1259.8" y="74.6" class="u" style="font-size:14.3px">%</text>
<rect x="563" y="96.00" width="26" height="66.30" fill="#E31A1C"/>
<rect x="563" y="162.00" width="26" height="66.30" fill="#FC5A2D"/>
<rect x="563" y="228.00" width="26" height="66.30" fill="#FD9E43"/>
<rect x="563" y="294.00" width="26" height="66.30" fill="#FEC868"/>
<rect x="563" y="360.00" width="26" height="66.30" fill="#FFE799"/>
<rect x="563" y="426.00" width="26" height="66.30" fill="#FFFFCF"/>
<text x="601.2" y="100.60" class="lab">90</text>
<text x="601.2" y="166.60" class="lab">85</text>
<text x="601.2" y="232.60" class="lab">80</text>
<text x="601.2" y="298.60" class="lab">75</text>
<text x="601.2" y="364.60" class="lab">70</text>
<text x="601.2" y="430.60" class="lab">65</text>
<text x="601.2" y="496.60" class="lab">60</text>
<rect x="1203" y="96.00" width="26" height="36.30" fill="#E26F14"/>
<rect x="1203" y="132.00" width="26" height="36.30" fill="#FD9A2C"/>
<rect x="1203" y="168.00" width="26" height="36.30" fill="#FDBA64"/>
<rect x="1203" y="204.00" width="26" height="36.30" fill="#FEDD9D"/>
<rect x="1203" y="240.00" width="26" height="36.30" fill="#FFF1C1"/>
<rect x="1203" y="276.00" width="26" height="36.30" fill="#FDFADC"/>
<rect x="1203" y="312.00" width="26" height="36.30" fill="#F1F1E9"/>
<rect x="1203" y="348.00" width="26" height="36.30" fill="#DDDDDD"/>
<rect x="1203" y="384.00" width="26" height="36.30" fill="#C2C2C2"/>
<rect x="1203" y="420.00" width="26" height="36.30" fill="#8F8F8F"/>
<rect x="1203" y="456.00" width="26" height="36.30" fill="#646464"/>
<text x="1241.2" y="100.60" class="lab" textLength="24.6">110</text>
<text x="1241.2" y="136.60" class="lab" textLength="24.6">108</text>
<text x="1241.2" y="172.60" class="lab" textLength="24.6">106</text>
<text x="1241.2" y="208.60" class="lab" textLength="24.6">104</text>
<text x="1241.2" y="244.60" class="lab" textLength="24.6">102</text>
<text x="1241.2" y="280.60" class="lab" textLength="24.6">100</text>
<text x="1241.2" y="316.60" class="lab">98</text>
<text x="1241.2" y="352.60" class="lab">96</text>
<text x="1241.2" y="388.60" class="lab">94</text>
<text x="1241.2" y="424.60" class="lab">92</text>
<text x="1241.2" y="460.60" class="lab">90</text>
<text x="1241.2" y="496.60" class="lab">88</text>
</svg>
</body></html>
